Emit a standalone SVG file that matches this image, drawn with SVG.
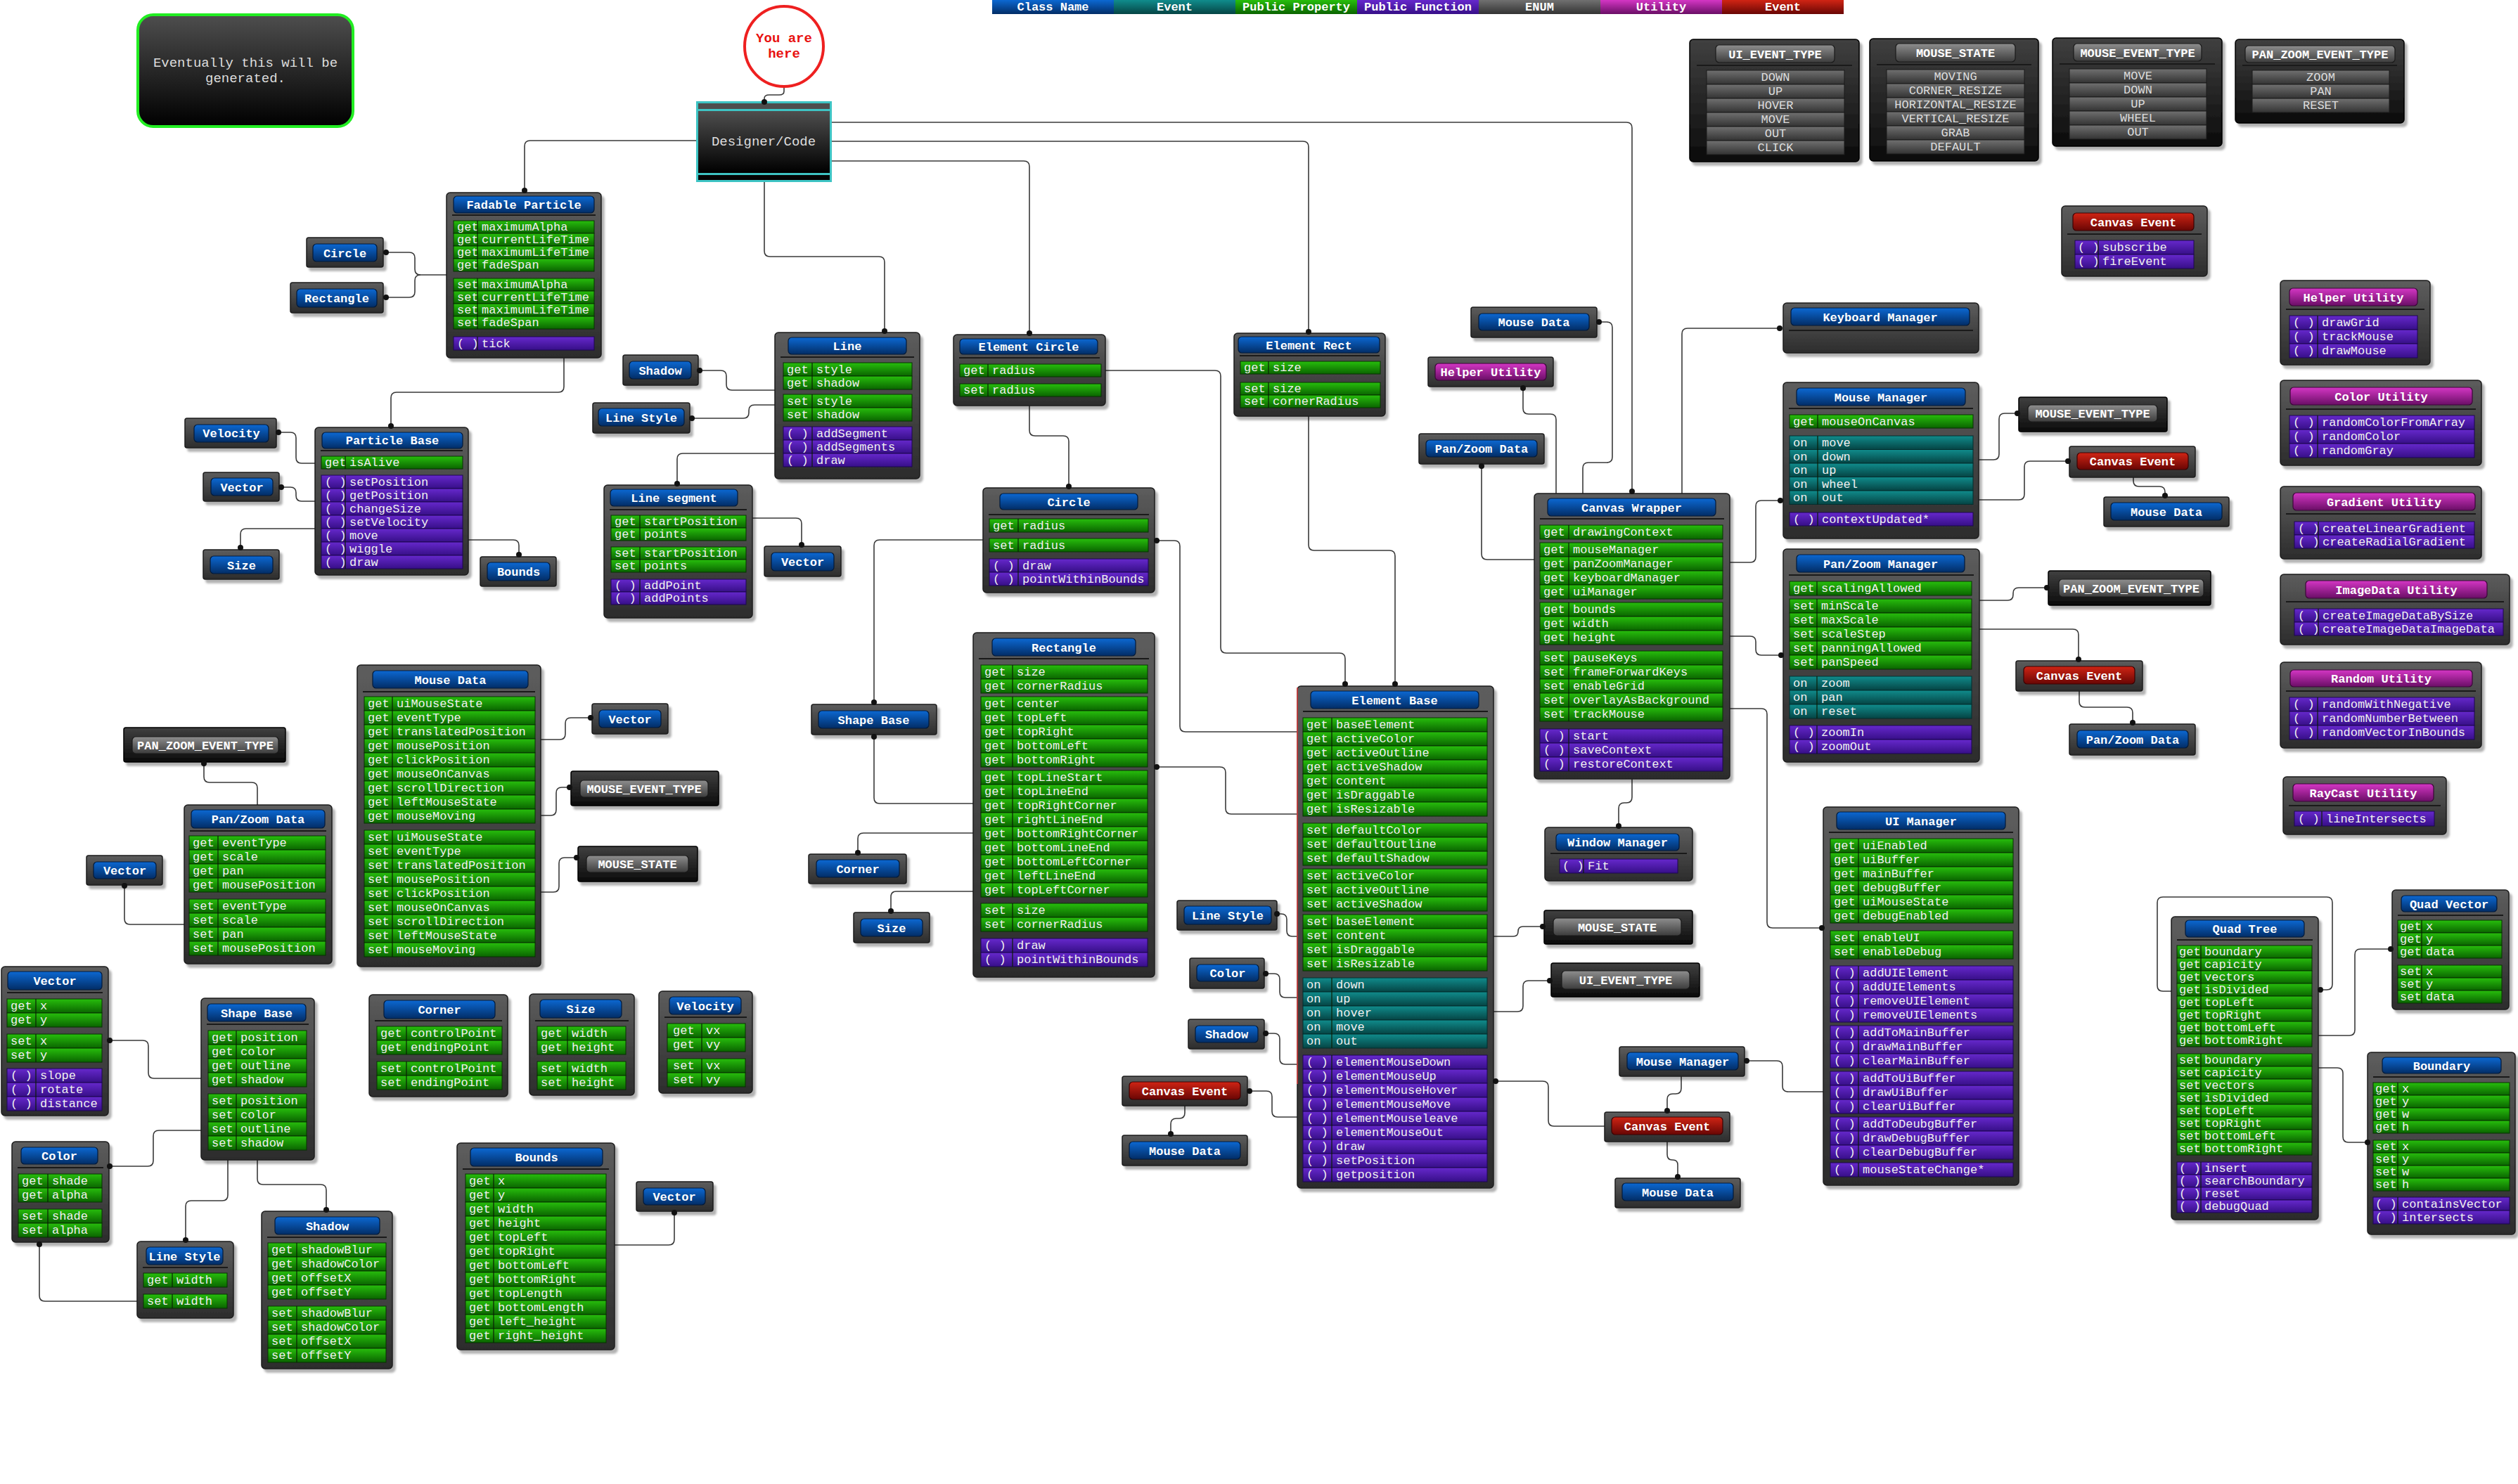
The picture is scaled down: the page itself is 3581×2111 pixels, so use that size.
<svg xmlns="http://www.w3.org/2000/svg" width="3581" height="2111" viewBox="0 0 3581 2111">
<defs>
<linearGradient id="gBox" x1="0" y1="0" x2="0" y2="1"><stop offset="0" stop-color="#5d5d5d"/><stop offset="1" stop-color="#2c2c2c"/></linearGradient>
<linearGradient id="gEbox" x1="0" y1="0" x2="0" y2="1"><stop offset="0" stop-color="#404040"/><stop offset="1" stop-color="#0b0b0b"/></linearGradient>
<linearGradient id="gNote" x1="0" y1="0" x2="0" y2="1"><stop offset="0" stop-color="#4e4e4e"/><stop offset="1" stop-color="#000"/></linearGradient>
<linearGradient id="gBlue" x1="0" y1="0" x2="0" y2="1"><stop offset="0" stop-color="#0c68d2"/><stop offset="1" stop-color="#022d66"/></linearGradient>
<linearGradient id="gRed" x1="0" y1="0" x2="0" y2="1"><stop offset="0" stop-color="#d02414"/><stop offset="1" stop-color="#690604"/></linearGradient>
<linearGradient id="gMag" x1="0" y1="0" x2="0" y2="1"><stop offset="0" stop-color="#d436c4"/><stop offset="1" stop-color="#6a0e66"/></linearGradient>
<linearGradient id="gEbar" x1="0" y1="0" x2="0" y2="1"><stop offset="0" stop-color="#8e8e8e"/><stop offset="1" stop-color="#3c3c3c"/></linearGradient>
<linearGradient id="gG" x1="0" y1="0" x2="0" y2="1"><stop offset="0" stop-color="#27be0c"/><stop offset="1" stop-color="#0a6400"/></linearGradient>
<linearGradient id="gT" x1="0" y1="0" x2="0" y2="1"><stop offset="0" stop-color="#108c8c"/><stop offset="1" stop-color="#054444"/></linearGradient>
<linearGradient id="gF" x1="0" y1="0" x2="0" y2="1"><stop offset="0" stop-color="#6628cc"/><stop offset="1" stop-color="#370f88"/></linearGradient>
<linearGradient id="gEr" x1="0" y1="0" x2="0" y2="1"><stop offset="0" stop-color="#707070"/><stop offset="1" stop-color="#333"/></linearGradient>
<filter id="sh" x="-10%" y="-10%" width="130%" height="130%"><feDropShadow dx="4" dy="5" stdDeviation="1.5" flood-color="#000" flood-opacity="0.3"/></filter>
</defs>
<style>
.bx{fill:url(#gBox);stroke:#1c1c1c;stroke-width:1.5;filter:url(#sh)}
.ebx{fill:url(#gEbox);stroke:#000;stroke-width:1.5;filter:url(#sh)}
.bl{fill:url(#gBlue);stroke:#021a3a;stroke-width:1.2}
.rd{fill:url(#gRed);stroke:#3a0202;stroke-width:1.2}
.mg{fill:url(#gMag);stroke:#3a0638;stroke-width:1.2}
.eb{fill:url(#gEbar);stroke:#1a1a1a;stroke-width:1.2}
.tt{font:bold 17px "Liberation Mono",monospace;fill:#fff;text-anchor:middle}
.sp{stroke:#1a1a1a;stroke-width:2}
.g{fill:url(#gG);stroke:#073300}
.t{fill:url(#gT);stroke:#032f2f}
.f{fill:url(#gF);stroke:#1c0650}
.er{fill:url(#gEr);stroke:#1a1a1a}
.r{font:17px "Liberation Mono",monospace;fill:#f0f0f0}
.ec{font:17px "Liberation Mono",monospace;fill:#ddd;text-anchor:middle}
.dv{stroke:#0b1e06;stroke-width:1.2}
.nt{font:19px "Liberation Mono",monospace;fill:#ddd;text-anchor:middle}
.yh{font:bold 19px "Liberation Mono",monospace;fill:#e81010;text-anchor:middle}
.c{fill:none;stroke:#3a3a3a;stroke-width:1.6}
.d{fill:#111}
</style>
<rect width="3581" height="2111" fill="#fff"/>

<g id="connectors">
<path class="c" d="M1115,123 V130 Q1115,135 1108,135 H1094 Q1087,135 1087,140 V145"/>
<path class="c" d="M990,200 H754 Q746,200 746,208 V272"/>
<path class="c" d="M1183,174 H2313 Q2321,174 2321,182 V702"/>
<path class="c" d="M1183,201 H1853 Q1861,201 1861,209 V474"/>
<path class="c" d="M1183,229 H1456 Q1464,229 1464,237 V476"/>
<path class="c" d="M1087,259 V357 Q1087,365 1095,365 H1250 Q1258,365 1258,373 V473"/>
<path class="c" d="M549,359 H582 Q590,359 590,367 V383 Q590,391 598,391 H635"/>
<path class="c" d="M549,423 H582 Q590,423 590,415 V399 Q590,391 598,391"/>
<path class="c" d="M802,509 V550 Q802,558 794,558 H564 Q556,558 556,566 V608"/>
<path class="c" d="M396,615 H413 Q421,615 421,623 V651 Q421,659 429,659 H448"/>
<path class="c" d="M400,693 H413 Q421,693 421,701 V705 Q421,713 429,713 H448"/>
<path class="c" d="M342,779 V760 Q342,752 350,752 H448"/>
<path class="c" d="M666,768 H730 Q738,768 738,776 V792"/>
<path class="c" d="M995,527 H1025 Q1033,527 1033,535 V547 Q1033,555 1041,555 H1102"/>
<path class="c" d="M984,595 H1057 Q1065,595 1065,587 V584 Q1065,576 1073,576 H1102"/>
<path class="c" d="M1102,645 H971 Q963,645 963,653 V690"/>
<path class="c" d="M1070,737 H1132 Q1140,737 1140,745 V777"/>
<path class="c" d="M1464,577 V612 Q1464,620 1472,620 H1512 Q1520,620 1520,628 V694"/>
<path class="c" d="M1572,527 H1728 Q1736,527 1736,535 V921 Q1736,929 1744,929 H1905 Q1913,929 1913,937 V976"/>
<path class="c" d="M1861,592 V775 Q1861,783 1869,783 H1976 Q1984,783 1984,791 V976"/>
<path class="c" d="M1398,768 H1251 Q1243,768 1243,776 V1002"/>
<path class="c" d="M1645,769 H1670 Q1678,769 1678,777 V1033 Q1678,1041 1686,1041 H1845"/>
<path class="c" d="M1243,1048 V1135 Q1243,1143 1251,1143 H1384"/>
<path class="c" d="M1645,1091 H1735 Q1743,1091 1743,1099 V1150 Q1743,1158 1751,1158 H1845"/>
<path class="c" d="M1384,1185 H1228 Q1220,1185 1220,1193 V1215"/>
<path class="c" d="M1384,1268 H1275 Q1267,1268 1267,1276 V1298"/>
<path class="c" d="M1816,1300 H1822 Q1830,1300 1830,1308 V1324 Q1830,1332 1838,1332 H1845"/>
<path class="c" d="M1800,1385 H1812 Q1820,1385 1820,1393 V1411 Q1820,1419 1828,1419 H1845"/>
<path class="c" d="M1800,1470 H1812 Q1820,1470 1820,1478 V1506 Q1820,1514 1828,1514 H1845"/>
<path class="c" d="M1777,1552 H1801 Q1809,1552 1809,1560 V1581 Q1809,1589 1817,1589 H1845"/>
<path class="c" d="M1685,1573 V1583 Q1685,1591 1677,1591 H1673 Q1665,1591 1665,1599 V1615"/>
<path class="c" d="M2124,1332 H2152 Q2159,1332 2159,1325 Q2159,1318 2166,1318 H2196"/>
<path class="c" d="M2124,1439 H2158 Q2166,1439 2166,1431 V1403 Q2166,1395 2174,1395 H2206"/>
<path class="c" d="M2127,1538 H2194 Q2202,1538 2202,1546 V1594 Q2202,1602 2210,1602 H2282"/>
<path class="c" d="M2484,1509 H2527 Q2535,1509 2535,1517 V1545 Q2535,1553 2543,1553 H2593"/>
<path class="c" d="M2391,1531 V1548 Q2391,1556 2383,1556 H2379 Q2371,1556 2371,1564 V1582"/>
<path class="c" d="M2371,1624 V1642 Q2371,1650 2378,1650 H2379 Q2386,1650 2386,1657 V1676"/>
<path class="c" d="M2321,1108 V1134 Q2321,1142 2313,1142 H2310 Q2302,1142 2302,1150 V1177"/>
<path class="c" d="M2460,1008 H2505 Q2513,1008 2513,1016 V1312 Q2513,1320 2521,1320 H2593"/>
<path class="c" d="M2460,800 H2489 Q2497,800 2497,792 V720 Q2497,712 2505,712 H2536"/>
<path class="c" d="M2460,905 H2489 Q2497,905 2497,913 V924 Q2497,932 2505,932 H2536"/>
<path class="c" d="M2274,458 H2285 Q2293,458 2293,466 V650 Q2293,658 2285,658 H2259 Q2251,658 2251,666 V702"/>
<path class="c" d="M2166,552 V581 Q2166,589 2174,589 H2205 Q2213,589 2213,597 V702"/>
<path class="c" d="M2107,663 V788 Q2107,796 2115,796 H2182"/>
<path class="c" d="M2531,467 H2400 Q2392,467 2392,475 V702"/>
<path class="c" d="M2814,654 H2835 Q2843,654 2843,646 V596 Q2843,588 2851,588 H2871"/>
<path class="c" d="M2814,711 H2871 Q2879,711 2879,703 V664 Q2879,656 2887,656 H2943"/>
<path class="c" d="M3034,679 V684 Q3034,692 3042,692 H3071 Q3079,692 3079,700 V707"/>
<path class="c" d="M2815,854 H2855 Q2863,854 2863,846 V844 Q2863,836 2871,836 H2913"/>
<path class="c" d="M2815,895 H2948 Q2956,895 2956,903 V940"/>
<path class="c" d="M2957,983 V998 Q2957,1006 2965,1006 H3025 Q3033,1006 3033,1014 V1030"/>
<path class="c" d="M769,1052 H796 Q804,1052 804,1044 V1029 Q804,1021 812,1021 H842"/>
<path class="c" d="M769,1160 H783 Q791,1160 791,1152 V1128 Q791,1120 799,1120 H812"/>
<path class="c" d="M769,1269 H787 Q795,1269 795,1261 V1228 Q795,1220 803,1220 H822"/>
<path class="c" d="M290,1086 V1105 Q290,1113 298,1113 H358 Q366,1113 366,1121 V1145"/>
<path class="c" d="M177,1260 V1307 Q177,1315 185,1315 H262"/>
<path class="c" d="M156,1480 H203 Q211,1480 211,1488 V1526 Q211,1534 219,1534 H286"/>
<path class="c" d="M286,1608 H226 Q218,1608 218,1616 V1651 Q218,1659 210,1659 H156"/>
<path class="c" d="M324,1650 V1700 Q324,1708 316,1708 H272 Q264,1708 264,1716 V1766"/>
<path class="c" d="M366,1650 V1677 Q366,1685 374,1685 H456 Q464,1685 464,1693 V1723"/>
<path class="c" d="M56,1770 V1843 Q56,1851 64,1851 H195"/>
<path class="c" d="M874,1771 H951 Q959,1771 959,1763 V1725"/>
<path class="c" d="M3088,1410 H3076 Q3068,1410 3068,1402 V1284 Q3068,1276 3076,1276 H3309 Q3317,1276 3317,1284 V1400 Q3317,1408 3309,1408 H3300"/>
<path class="c" d="M3297,1473 H3341 Q3349,1473 3349,1465 V1358 Q3349,1350 3357,1350 H3402"/>
<path class="c" d="M3297,1519 H3324 Q3332,1519 3332,1527 V1617 Q3332,1625 3340,1625 H3367"/>
</g>

<g id="note"><rect x="196" y="21" width="306" height="159" rx="22" fill="url(#gNote)" stroke="#22ee22" stroke-width="4"/><text class="nt" x="349" y="95">Eventually this will be</text><text class="nt" x="349" y="117">generated.</text></g>
<g id="you-are-here"><ellipse cx="1115" cy="66" rx="56" ry="57" fill="#fff" stroke="#ee2020" stroke-width="4"/><text class="yh" x="1115" y="60">You are</text><text class="yh" x="1115" y="82">here</text></g>
<g id="designer-code"><rect x="990" y="144" width="193" height="115" fill="#3ec4c4"/><rect x="993" y="147" width="187" height="8" fill="#4d4d4d"/><rect x="993" y="158" width="187" height="88" fill="url(#gNote)"/><rect x="993" y="249" width="187" height="7" fill="#050505"/><text class="nt" x="1086" y="207">Designer/Code</text></g>

<g id="legend">
<rect x="1411" y="0" width="173" height="20" fill="url(#gBlue)"/><rect x="1584" y="0" width="173" height="20" fill="url(#gT)"/><rect x="1757" y="0" width="173" height="20" fill="url(#gG)"/><rect x="1930" y="0" width="173" height="20" fill="url(#gF)"/><rect x="2103" y="0" width="173" height="20" fill="url(#gEr)"/><rect x="2276" y="0" width="173" height="20" fill="url(#gMag)"/><rect x="2449" y="0" width="173" height="20" fill="url(#gRed)"/>
<text class="tt" x="1497.5" y="15">Class Name</text><text class="tt" x="1670.5" y="15">Event</text><text class="tt" x="1843.5" y="15">Public Property</text><text class="tt" x="2016.5" y="15">Public Function</text><text class="tt" x="2189.5" y="15" fill="#ddd">ENUM</text><text class="tt" x="2362.5" y="15">Utility</text><text class="tt" x="2535.5" y="15">Event</text>
</g>

<g id="enum-ui-event-type"><rect class="ebx" x="2403" y="56" width="241" height="174" rx="5"/><rect class="eb" x="2440" y="64" width="169" height="25" rx="5"/><text class="tt" x="2524.5" y="82.5">UI_EVENT_TYPE</text><line class="sp" x1="2413" y1="93" x2="2634" y2="93"/>
<rect class="er" x="2427" y="100" width="196" height="20"/><text class="ec" x="2525" y="115">DOWN</text>
<rect class="er" x="2427" y="120" width="196" height="20"/><text class="ec" x="2525" y="135">UP</text>
<rect class="er" x="2427" y="140" width="196" height="20"/><text class="ec" x="2525" y="155">HOVER</text>
<rect class="er" x="2427" y="160" width="196" height="20"/><text class="ec" x="2525" y="175">MOVE</text>
<rect class="er" x="2427" y="180" width="196" height="20"/><text class="ec" x="2525" y="195">OUT</text>
<rect class="er" x="2427" y="200" width="196" height="20"/><text class="ec" x="2525" y="215">CLICK</text></g>

<g id="enum-mouse-state"><rect class="ebx" x="2659" y="55" width="240" height="174" rx="5"/><rect class="eb" x="2696" y="62" width="170" height="26" rx="5"/><text class="tt" x="2781" y="81">MOUSE_STATE</text><line class="sp" x1="2669" y1="92" x2="2889" y2="92"/>
<rect class="er" x="2683" y="99" width="196" height="20"/><text class="ec" x="2781" y="114">MOVING</text>
<rect class="er" x="2683" y="119" width="196" height="20"/><text class="ec" x="2781" y="134">CORNER_RESIZE</text>
<rect class="er" x="2683" y="139" width="196" height="20"/><text class="ec" x="2781" y="154">HORIZONTAL_RESIZE</text>
<rect class="er" x="2683" y="159" width="196" height="20"/><text class="ec" x="2781" y="174">VERTICAL_RESIZE</text>
<rect class="er" x="2683" y="179" width="196" height="20"/><text class="ec" x="2781" y="194">GRAB</text>
<rect class="er" x="2683" y="199" width="196" height="20"/><text class="ec" x="2781" y="214">DEFAULT</text></g>

<g id="enum-mouse-event-type"><rect class="ebx" x="2919" y="54" width="241" height="154" rx="5"/><rect class="eb" x="2949" y="62" width="182" height="25" rx="5"/><text class="tt" x="3040" y="80.5">MOUSE_EVENT_TYPE</text><line class="sp" x1="2929" y1="91" x2="3150" y2="91"/>
<rect class="er" x="2943" y="98" width="195" height="20"/><text class="ec" x="3040.5" y="113">MOVE</text>
<rect class="er" x="2943" y="118" width="195" height="20"/><text class="ec" x="3040.5" y="133">DOWN</text>
<rect class="er" x="2943" y="138" width="195" height="20"/><text class="ec" x="3040.5" y="153">UP</text>
<rect class="er" x="2943" y="158" width="195" height="20"/><text class="ec" x="3040.5" y="173">WHEEL</text>
<rect class="er" x="2943" y="178" width="195" height="20"/><text class="ec" x="3040.5" y="193">OUT</text></g>

<g id="enum-pan-zoom-event-type"><rect class="ebx" x="3179" y="56" width="240" height="119" rx="5"/><rect class="eb" x="3193" y="65" width="213" height="24" rx="5"/><text class="tt" x="3299.5" y="83">PAN_ZOOM_EVENT_TYPE</text><line class="sp" x1="3189" y1="93" x2="3409" y2="93"/>
<rect class="er" x="3203" y="100" width="195" height="20"/><text class="ec" x="3300.5" y="115">ZOOM</text>
<rect class="er" x="3203" y="120" width="195" height="20"/><text class="ec" x="3300.5" y="135">PAN</text>
<rect class="er" x="3203" y="140" width="195" height="20"/><text class="ec" x="3300.5" y="155">RESET</text></g>

<g id="fadable-particle"><rect class="bx" x="635" y="274" width="220" height="235" rx="5"/><rect class="bl" x="645" y="279" width="200" height="24" rx="5"/><text class="tt" x="745" y="297">Fadable Particle</text><line class="sp" x1="643" y1="306" x2="847" y2="306"/>
<rect class="g" x="645" y="314" width="200" height="18"/><text class="r" y="328"><tspan x="650">get</tspan><tspan x="685">maximumAlpha</tspan></text>
<rect class="g" x="645" y="332" width="200" height="18"/><text class="r" y="346"><tspan x="650">get</tspan><tspan x="685">currentLifeTime</tspan></text>
<rect class="g" x="645" y="350" width="200" height="18"/><text class="r" y="364"><tspan x="650">get</tspan><tspan x="685">maximumLifeTime</tspan></text>
<rect class="g" x="645" y="368" width="200" height="18"/><text class="r" y="382"><tspan x="650">get</tspan><tspan x="685">fadeSpan</tspan></text>
<rect class="g" x="645" y="396" width="200" height="18"/><text class="r" y="410"><tspan x="650">set</tspan><tspan x="685">maximumAlpha</tspan></text>
<rect class="g" x="645" y="414" width="200" height="18"/><text class="r" y="428"><tspan x="650">set</tspan><tspan x="685">currentLifeTime</tspan></text>
<rect class="g" x="645" y="432" width="200" height="18"/><text class="r" y="446"><tspan x="650">set</tspan><tspan x="685">maximumLifeTime</tspan></text>
<rect class="g" x="645" y="450" width="200" height="18"/><text class="r" y="464"><tspan x="650">set</tspan><tspan x="685">fadeSpan</tspan></text>
<rect class="f" x="645" y="479" width="200" height="19"/><text class="r" y="494"><tspan x="650">( )</tspan><tspan x="685">tick</tspan></text>
<path class="dv" d="M679,314V386M679,396V468M679,479V498"/></g>

<g id="circle-ref-1"><rect class="bx" x="436" y="338" width="109" height="42" rx="3"/><rect class="bl" x="445" y="347" width="91" height="25" rx="5"/><text class="tt" x="490.5" y="366">Circle</text></g>
<g id="rectangle-ref-1"><rect class="bx" x="413" y="402" width="132" height="43" rx="3"/><rect class="bl" x="422" y="411" width="114" height="26" rx="5"/><text class="tt" x="479" y="430">Rectangle</text></g>

<g id="particle-base"><rect class="bx" x="448" y="608" width="218" height="210" rx="5"/><rect class="bl" x="458" y="615" width="200" height="23" rx="5"/><text class="tt" x="558" y="632">Particle Base</text><line class="sp" x1="456" y1="641" x2="658" y2="641"/>
<rect class="g" x="457" y="649" width="201" height="18"/><text class="r" y="663"><tspan x="462">get</tspan><tspan x="497">isAlive</tspan></text>
<rect class="f" x="457" y="676" width="201" height="19"/><text class="r" y="691"><tspan x="462">( )</tspan><tspan x="497">setPosition</tspan></text>
<rect class="f" x="457" y="695" width="201" height="19"/><text class="r" y="710"><tspan x="462">( )</tspan><tspan x="497">getPosition</tspan></text>
<rect class="f" x="457" y="714" width="201" height="19"/><text class="r" y="729"><tspan x="462">( )</tspan><tspan x="497">changeSize</tspan></text>
<rect class="f" x="457" y="733" width="201" height="19"/><text class="r" y="748"><tspan x="462">( )</tspan><tspan x="497">setVelocity</tspan></text>
<rect class="f" x="457" y="752" width="201" height="19"/><text class="r" y="767"><tspan x="462">( )</tspan><tspan x="497">move</tspan></text>
<rect class="f" x="457" y="771" width="201" height="19"/><text class="r" y="786"><tspan x="462">( )</tspan><tspan x="497">wiggle</tspan></text>
<rect class="f" x="457" y="790" width="201" height="19"/><text class="r" y="805"><tspan x="462">( )</tspan><tspan x="497">draw</tspan></text>
<path class="dv" d="M491,649V667M491,676V809"/></g>

<g id="velocity-ref-1"><rect class="bx" x="263" y="595" width="130" height="42" rx="3"/><rect class="bl" x="276" y="604" width="106" height="25" rx="5"/><text class="tt" x="329" y="622">Velocity</text></g>
<g id="vector-ref-1"><rect class="bx" x="289" y="672" width="108" height="41" rx="3"/><rect class="bl" x="300" y="680" width="88" height="25" rx="5"/><text class="tt" x="344" y="698.5">Vector</text></g>
<g id="size-ref-1"><rect class="bx" x="289" y="782" width="108" height="42" rx="3"/><rect class="bl" x="299" y="791" width="89" height="25" rx="5"/><text class="tt" x="343.5" y="809.5">Size</text></g>
<g id="bounds-ref-1"><rect class="bx" x="683" y="792" width="108" height="42" rx="3"/><rect class="bl" x="693" y="800" width="89" height="26" rx="5"/><text class="tt" x="737.5" y="819">Bounds</text></g>

<g id="line"><rect class="bx" x="1102" y="473" width="206" height="208" rx="5"/><rect class="bl" x="1121" y="480" width="168" height="24" rx="5"/><text class="tt" x="1205" y="498">Line</text><line class="sp" x1="1110" y1="508" x2="1300" y2="508"/>
<rect class="g" x="1114" y="516" width="183" height="19"/><text class="r" y="531"><tspan x="1119">get</tspan><tspan x="1161">style</tspan></text>
<rect class="g" x="1114" y="535" width="183" height="19"/><text class="r" y="550"><tspan x="1119">get</tspan><tspan x="1161">shadow</tspan></text>
<rect class="g" x="1114" y="561" width="183" height="19"/><text class="r" y="576"><tspan x="1119">set</tspan><tspan x="1161">style</tspan></text>
<rect class="g" x="1114" y="580" width="183" height="19"/><text class="r" y="595"><tspan x="1119">set</tspan><tspan x="1161">shadow</tspan></text>
<rect class="f" x="1114" y="607" width="183" height="19"/><text class="r" y="622"><tspan x="1119">( )</tspan><tspan x="1161">addSegment</tspan></text>
<rect class="f" x="1114" y="626" width="183" height="19"/><text class="r" y="641"><tspan x="1119">( )</tspan><tspan x="1161">addSegments</tspan></text>
<rect class="f" x="1114" y="645" width="183" height="19"/><text class="r" y="660"><tspan x="1119">( )</tspan><tspan x="1161">draw</tspan></text>
<path class="dv" d="M1155,516V554M1155,561V599M1155,607V664"/></g>

<g id="shadow-ref-1"><rect class="bx" x="886" y="505" width="107" height="43" rx="3"/><rect class="bl" x="895" y="514" width="88" height="25" rx="5"/><text class="tt" x="939" y="532.5">Shadow</text></g>
<g id="line-style-ref-1"><rect class="bx" x="843" y="573" width="138" height="43" rx="3"/><rect class="bl" x="851" y="581" width="122" height="25" rx="5"/><text class="tt" x="912" y="599.5">Line Style</text></g>

<g id="line-segment"><rect class="bx" x="859" y="690" width="211" height="189" rx="5"/><rect class="bl" x="868" y="696" width="181" height="24" rx="5"/><text class="tt" x="958.5" y="714">Line segment</text><line class="sp" x1="867" y1="725" x2="1062" y2="725"/>
<rect class="g" x="869" y="733" width="192" height="18"/><text class="r" y="747"><tspan x="874">get</tspan><tspan x="916">startPosition</tspan></text>
<rect class="g" x="869" y="751" width="192" height="18"/><text class="r" y="765"><tspan x="874">get</tspan><tspan x="916">points</tspan></text>
<rect class="g" x="869" y="778" width="192" height="18"/><text class="r" y="792"><tspan x="874">set</tspan><tspan x="916">startPosition</tspan></text>
<rect class="g" x="869" y="796" width="192" height="18"/><text class="r" y="810"><tspan x="874">set</tspan><tspan x="916">points</tspan></text>
<rect class="f" x="869" y="824" width="192" height="18"/><text class="r" y="838"><tspan x="874">( )</tspan><tspan x="916">addPoint</tspan></text>
<rect class="f" x="869" y="842" width="192" height="18"/><text class="r" y="856"><tspan x="874">( )</tspan><tspan x="916">addPoints</tspan></text>
<path class="dv" d="M910,733V769M910,778V814M910,824V860"/></g>

<g id="vector-ref-2"><rect class="bx" x="1087" y="777" width="109" height="43" rx="3"/><rect class="bl" x="1097" y="786" width="89" height="26" rx="5"/><text class="tt" x="1141.5" y="805">Vector</text></g>

<g id="element-circle"><rect class="bx" x="1356" y="476" width="216" height="101" rx="5"/><rect class="bl" x="1365" y="482" width="196" height="22" rx="5"/><text class="tt" x="1463" y="499">Element Circle</text><line class="sp" x1="1364" y1="509" x2="1564" y2="509"/>
<rect class="g" x="1365" y="518" width="201" height="18"/><text class="r" y="532"><tspan x="1370">get</tspan><tspan x="1411">radius</tspan></text>
<rect class="g" x="1365" y="546" width="201" height="18"/><text class="r" y="560"><tspan x="1370">set</tspan><tspan x="1411">radius</tspan></text>
<path class="dv" d="M1405,518V536M1405,546V564"/></g>

<g id="element-rect"><rect class="bx" x="1755" y="474" width="215" height="118" rx="5"/><rect class="bl" x="1761" y="479" width="201" height="23" rx="5"/><text class="tt" x="1861.5" y="496.5">Element Rect</text><line class="sp" x1="1763" y1="506" x2="1962" y2="506"/>
<rect class="g" x="1764" y="514" width="199" height="18"/><text class="r" y="528"><tspan x="1769">get</tspan><tspan x="1810">size</tspan></text>
<rect class="g" x="1764" y="544" width="199" height="18"/><text class="r" y="558"><tspan x="1769">set</tspan><tspan x="1810">size</tspan></text>
<rect class="g" x="1764" y="562" width="199" height="18"/><text class="r" y="576"><tspan x="1769">set</tspan><tspan x="1810">cornerRadius</tspan></text>
<path class="dv" d="M1804,514V532M1804,544V580"/></g>

<g id="circle"><rect class="bx" x="1398" y="694" width="244" height="149" rx="5"/><rect class="bl" x="1422" y="702" width="196" height="23" rx="5"/><text class="tt" x="1520" y="719.5">Circle</text><line class="sp" x1="1406" y1="732" x2="1634" y2="732"/>
<rect class="g" x="1407" y="738" width="226" height="19"/><text class="r" y="753"><tspan x="1412">get</tspan><tspan x="1454">radius</tspan></text>
<rect class="g" x="1407" y="766" width="226" height="19"/><text class="r" y="781"><tspan x="1412">set</tspan><tspan x="1454">radius</tspan></text>
<rect class="f" x="1407" y="795" width="226" height="19"/><text class="r" y="810"><tspan x="1412">( )</tspan><tspan x="1454">draw</tspan></text>
<rect class="f" x="1407" y="814" width="226" height="19"/><text class="r" y="829"><tspan x="1412">( )</tspan><tspan x="1454">pointWithinBounds</tspan></text>
<path class="dv" d="M1448,738V757M1448,766V785M1448,795V833"/></g>

<g id="shape-base-ref-1"><rect class="bx" x="1154" y="1002" width="178" height="43" rx="3"/><rect class="bl" x="1164" y="1011" width="157" height="25" rx="5"/><text class="tt" x="1242.5" y="1029.5">Shape Base</text></g>

<g id="rectangle"><rect class="bx" x="1384" y="900" width="258" height="490" rx="5"/><rect class="bl" x="1411" y="908" width="204" height="25" rx="5"/><text class="tt" x="1513" y="926.5">Rectangle</text><line class="sp" x1="1392" y1="937" x2="1634" y2="937"/>
<rect class="g" x="1395" y="946" width="237" height="20"/><text class="r" y="961"><tspan x="1400">get</tspan><tspan x="1446">size</tspan></text>
<rect class="g" x="1395" y="966" width="237" height="20"/><text class="r" y="981"><tspan x="1400">get</tspan><tspan x="1446">cornerRadius</tspan></text>
<rect class="g" x="1395" y="991" width="237" height="20"/><text class="r" y="1006"><tspan x="1400">get</tspan><tspan x="1446">center</tspan></text>
<rect class="g" x="1395" y="1011" width="237" height="20"/><text class="r" y="1026"><tspan x="1400">get</tspan><tspan x="1446">topLeft</tspan></text>
<rect class="g" x="1395" y="1031" width="237" height="20"/><text class="r" y="1046"><tspan x="1400">get</tspan><tspan x="1446">topRight</tspan></text>
<rect class="g" x="1395" y="1051" width="237" height="20"/><text class="r" y="1066"><tspan x="1400">get</tspan><tspan x="1446">bottomLeft</tspan></text>
<rect class="g" x="1395" y="1071" width="237" height="20"/><text class="r" y="1086"><tspan x="1400">get</tspan><tspan x="1446">bottomRight</tspan></text>
<rect class="g" x="1395" y="1096" width="237" height="20"/><text class="r" y="1111"><tspan x="1400">get</tspan><tspan x="1446">topLineStart</tspan></text>
<rect class="g" x="1395" y="1116" width="237" height="20"/><text class="r" y="1131"><tspan x="1400">get</tspan><tspan x="1446">topLineEnd</tspan></text>
<rect class="g" x="1395" y="1136" width="237" height="20"/><text class="r" y="1151"><tspan x="1400">get</tspan><tspan x="1446">topRightCorner</tspan></text>
<rect class="g" x="1395" y="1156" width="237" height="20"/><text class="r" y="1171"><tspan x="1400">get</tspan><tspan x="1446">rightLineEnd</tspan></text>
<rect class="g" x="1395" y="1176" width="237" height="20"/><text class="r" y="1191"><tspan x="1400">get</tspan><tspan x="1446">bottomRightCorner</tspan></text>
<rect class="g" x="1395" y="1196" width="237" height="20"/><text class="r" y="1211"><tspan x="1400">get</tspan><tspan x="1446">bottomLineEnd</tspan></text>
<rect class="g" x="1395" y="1216" width="237" height="20"/><text class="r" y="1231"><tspan x="1400">get</tspan><tspan x="1446">bottomLeftCorner</tspan></text>
<rect class="g" x="1395" y="1236" width="237" height="20"/><text class="r" y="1251"><tspan x="1400">get</tspan><tspan x="1446">leftLineEnd</tspan></text>
<rect class="g" x="1395" y="1256" width="237" height="20"/><text class="r" y="1271"><tspan x="1400">get</tspan><tspan x="1446">topLeftCorner</tspan></text>
<rect class="g" x="1395" y="1285" width="237" height="20"/><text class="r" y="1300"><tspan x="1400">set</tspan><tspan x="1446">size</tspan></text>
<rect class="g" x="1395" y="1305" width="237" height="20"/><text class="r" y="1320"><tspan x="1400">set</tspan><tspan x="1446">cornerRadius</tspan></text>
<rect class="f" x="1395" y="1335" width="237" height="20"/><text class="r" y="1350"><tspan x="1400">( )</tspan><tspan x="1446">draw</tspan></text>
<rect class="f" x="1395" y="1355" width="237" height="20"/><text class="r" y="1370"><tspan x="1400">( )</tspan><tspan x="1446">pointWithinBounds</tspan></text>
<path class="dv" d="M1440,946V986M1440,991V1091M1440,1096V1276M1440,1285V1325M1440,1335V1375"/></g>

<g id="corner-ref-1"><rect class="bx" x="1150" y="1215" width="139" height="42" rx="3"/><rect class="bl" x="1161" y="1223" width="118" height="25" rx="5"/><text class="tt" x="1220" y="1241.5">Corner</text></g>
<g id="size-ref-2"><rect class="bx" x="1214" y="1298" width="108" height="43" rx="3"/><rect class="bl" x="1224" y="1307" width="88" height="25" rx="5"/><text class="tt" x="1268" y="1325.5">Size</text></g>

<g id="mouse-data-ref-1"><rect class="bx" x="2092" y="437" width="179" height="43" rx="3"/><rect class="bl" x="2103" y="446" width="157" height="24" rx="5"/><text class="tt" x="2181.5" y="464">Mouse Data</text></g>
<g id="helper-utility-ref-1"><rect class="bx" x="2031" y="508" width="178" height="42" rx="3"/><rect class="mg" x="2041" y="517" width="158" height="24" rx="5"/><text class="tt" x="2120" y="535">Helper Utility</text></g>
<g id="pan-zoom-data-ref-1"><rect class="bx" x="2018" y="617" width="178" height="43" rx="3"/><rect class="bl" x="2028" y="626" width="158" height="24" rx="5"/><text class="tt" x="2107" y="644">Pan/Zoom Data</text></g>

<g id="keyboard-manager"><rect class="bx" x="2536" y="431" width="278" height="71" rx="5"/><rect class="bl" x="2547" y="438" width="254" height="25" rx="5"/><text class="tt" x="2674" y="456.5">Keyboard Manager</text><line class="sp" x1="2544" y1="470" x2="2806" y2="470"/></g>

<g id="mouse-manager"><rect class="bx" x="2536" y="544" width="278" height="222" rx="5"/><rect class="bl" x="2555" y="552" width="240" height="25" rx="5"/><text class="tt" x="2675" y="570.5">Mouse Manager</text><line class="sp" x1="2544" y1="581" x2="2806" y2="581"/>
<rect class="g" x="2545" y="590" width="261" height="19"/><text class="r" y="605"><tspan x="2550">get</tspan><tspan x="2591">mouseOnCanvas</tspan></text>
<rect class="t" x="2545" y="620" width="261" height="19.5"/><text class="r" y="635"><tspan x="2550">on</tspan><tspan x="2591">move</tspan></text>
<rect class="t" x="2545" y="639.5" width="261" height="19.5"/><text class="r" y="654.5"><tspan x="2550">on</tspan><tspan x="2591">down</tspan></text>
<rect class="t" x="2545" y="659" width="261" height="19.5"/><text class="r" y="674"><tspan x="2550">on</tspan><tspan x="2591">up</tspan></text>
<rect class="t" x="2545" y="678.5" width="261" height="19.5"/><text class="r" y="693.5"><tspan x="2550">on</tspan><tspan x="2591">wheel</tspan></text>
<rect class="t" x="2545" y="698" width="261" height="19.5"/><text class="r" y="713"><tspan x="2550">on</tspan><tspan x="2591">out</tspan></text>
<rect class="f" x="2545" y="729" width="261" height="19"/><text class="r" y="744"><tspan x="2550">( )</tspan><tspan x="2591">contextUpdated*</tspan></text>
<path class="dv" d="M2585,590V609M2585,620V717.5M2585,729V748"/></g>

<g id="mouse-event-type-ref-1"><rect class="ebx" x="2871" y="565" width="211" height="49" rx="3"/><rect class="eb" x="2884" y="576" width="184" height="24" rx="5"/><text class="tt" x="2976" y="594">MOUSE_EVENT_TYPE</text></g>
<g id="canvas-event-ref-1"><rect class="bx" x="2943" y="635" width="179" height="44" rx="3"/><rect class="rd" x="2954" y="644" width="158" height="24" rx="5"/><text class="tt" x="3033" y="662">Canvas Event</text></g>
<g id="mouse-data-ref-2"><rect class="bx" x="2992" y="707" width="178" height="42" rx="3"/><rect class="bl" x="3002" y="715" width="158" height="25" rx="5"/><text class="tt" x="3081" y="733.5">Mouse Data</text></g>

<g id="canvas-event"><rect class="bx" x="2932" y="293" width="207" height="100" rx="5"/><rect class="rd" x="2948" y="303" width="172" height="25" rx="5"/><text class="tt" x="3034" y="321.5">Canvas Event</text><line class="sp" x1="2940" y1="333" x2="3131" y2="333"/>
<rect class="f" x="2951" y="342" width="169" height="20"/><text class="r" y="357"><tspan x="2955">( )</tspan><tspan x="2990">subscribe</tspan></text>
<rect class="f" x="2951" y="362" width="169" height="20"/><text class="r" y="377"><tspan x="2955">( )</tspan><tspan x="2990">fireEvent</tspan></text>
<path class="dv" d="M2984,342V382"/></g>

<g id="helper-utility"><rect class="bx" x="3243" y="399" width="213" height="120" rx="5"/><rect class="mg" x="3256" y="410" width="182" height="25" rx="5"/><text class="tt" x="3347" y="428.5">Helper Utility</text><line class="sp" x1="3251" y1="440" x2="3448" y2="440"/>
<rect class="f" x="3256" y="449" width="182" height="20"/><text class="r" y="464"><tspan x="3261">( )</tspan><tspan x="3302">drawGrid</tspan></text>
<rect class="f" x="3256" y="469" width="182" height="20"/><text class="r" y="484"><tspan x="3261">( )</tspan><tspan x="3302">trackMouse</tspan></text>
<rect class="f" x="3256" y="489" width="182" height="20"/><text class="r" y="504"><tspan x="3261">( )</tspan><tspan x="3302">drawMouse</tspan></text>
<path class="dv" d="M3296,449V509"/></g>

<g id="color-utility"><rect class="bx" x="3243" y="541" width="286" height="121" rx="5"/><rect class="mg" x="3257" y="551" width="259" height="25" rx="5"/><text class="tt" x="3386.5" y="569.5">Color Utility</text><line class="sp" x1="3251" y1="582" x2="3521" y2="582"/>
<rect class="f" x="3256" y="591" width="263" height="20"/><text class="r" y="606"><tspan x="3261">( )</tspan><tspan x="3302">randomColorFromArray</tspan></text>
<rect class="f" x="3256" y="611" width="263" height="20"/><text class="r" y="626"><tspan x="3261">( )</tspan><tspan x="3302">randomColor</tspan></text>
<rect class="f" x="3256" y="631" width="263" height="20"/><text class="r" y="646"><tspan x="3261">( )</tspan><tspan x="3302">randomGray</tspan></text>
<path class="dv" d="M3296,591V651"/></g>

<g id="gradient-utility"><rect class="bx" x="3243" y="692" width="286" height="103" rx="5"/><rect class="mg" x="3261" y="701" width="259" height="25" rx="5"/><text class="tt" x="3390.5" y="719.5">Gradient Utility</text><line class="sp" x1="3251" y1="731" x2="3521" y2="731"/>
<rect class="f" x="3263" y="742" width="256" height="19"/><text class="r" y="757"><tspan x="3268">( )</tspan><tspan x="3303">createLinearGradient</tspan></text>
<rect class="f" x="3263" y="761" width="256" height="19"/><text class="r" y="776"><tspan x="3268">( )</tspan><tspan x="3303">createRadialGradient</tspan></text>
<path class="dv" d="M3297,742V780"/></g>

<g id="imagedata-utility"><rect class="bx" x="3243" y="817" width="326" height="100" rx="5"/><rect class="mg" x="3279" y="826" width="258" height="25" rx="5"/><text class="tt" x="3408" y="844.5">ImageData Utility</text><line class="sp" x1="3251" y1="856" x2="3561" y2="856"/>
<rect class="f" x="3263" y="866" width="297" height="19"/><text class="r" y="881"><tspan x="3268">( )</tspan><tspan x="3303">createImageDataBySize</tspan></text>
<rect class="f" x="3263" y="885" width="297" height="19"/><text class="r" y="900"><tspan x="3268">( )</tspan><tspan x="3303">createImageDataImageData</tspan></text>
<path class="dv" d="M3297,866V904"/></g>

<g id="random-utility"><rect class="bx" x="3243" y="942" width="286" height="122" rx="5"/><rect class="mg" x="3257" y="953" width="259" height="24" rx="5"/><text class="tt" x="3386.5" y="971">Random Utility</text><line class="sp" x1="3251" y1="983" x2="3521" y2="983"/>
<rect class="f" x="3256" y="992" width="263" height="20"/><text class="r" y="1007"><tspan x="3261">( )</tspan><tspan x="3302">randomWithNegative</tspan></text>
<rect class="f" x="3256" y="1012" width="263" height="20"/><text class="r" y="1027"><tspan x="3261">( )</tspan><tspan x="3302">randomNumberBetween</tspan></text>
<rect class="f" x="3256" y="1032" width="263" height="20"/><text class="r" y="1047"><tspan x="3261">( )</tspan><tspan x="3302">randomVectorInBounds</tspan></text>
<path class="dv" d="M3296,992V1052"/></g>

<g id="raycast-utility"><rect class="bx" x="3247" y="1105" width="232" height="82" rx="5"/><rect class="mg" x="3261" y="1115" width="200" height="25" rx="5"/><text class="tt" x="3361" y="1133.5">RayCast Utility</text><line class="sp" x1="3255" y1="1146" x2="3471" y2="1146"/>
<rect class="f" x="3263" y="1154" width="199" height="21"/><text class="r" y="1170"><tspan x="3268">( )</tspan><tspan x="3308">lineIntersects</tspan></text>
<path class="dv" d="M3302,1154V1175"/></g>

<g id="canvas-wrapper"><rect class="bx" x="2182" y="702" width="278" height="406" rx="5"/><rect class="bl" x="2201" y="709" width="239" height="25" rx="5"/><text class="tt" x="2320.5" y="727.5">Canvas Wrapper</text><line class="sp" x1="2190" y1="738" x2="2452" y2="738"/>
<rect class="g" x="2190" y="747" width="260" height="20"/><text class="r" y="762"><tspan x="2195">get</tspan><tspan x="2237">drawingContext</tspan></text>
<rect class="g" x="2190" y="772" width="260" height="20"/><text class="r" y="787"><tspan x="2195">get</tspan><tspan x="2237">mouseManager</tspan></text>
<rect class="g" x="2190" y="792" width="260" height="20"/><text class="r" y="807"><tspan x="2195">get</tspan><tspan x="2237">panZoomManager</tspan></text>
<rect class="g" x="2190" y="812" width="260" height="20"/><text class="r" y="827"><tspan x="2195">get</tspan><tspan x="2237">keyboardManager</tspan></text>
<rect class="g" x="2190" y="832" width="260" height="20"/><text class="r" y="847"><tspan x="2195">get</tspan><tspan x="2237">uiManager</tspan></text>
<rect class="g" x="2190" y="857" width="260" height="20"/><text class="r" y="872"><tspan x="2195">get</tspan><tspan x="2237">bounds</tspan></text>
<rect class="g" x="2190" y="877" width="260" height="20"/><text class="r" y="892"><tspan x="2195">get</tspan><tspan x="2237">width</tspan></text>
<rect class="g" x="2190" y="897" width="260" height="20"/><text class="r" y="912"><tspan x="2195">get</tspan><tspan x="2237">height</tspan></text>
<rect class="g" x="2190" y="926" width="260" height="20"/><text class="r" y="941"><tspan x="2195">set</tspan><tspan x="2237">pauseKeys</tspan></text>
<rect class="g" x="2190" y="946" width="260" height="20"/><text class="r" y="961"><tspan x="2195">set</tspan><tspan x="2237">frameForwardKeys</tspan></text>
<rect class="g" x="2190" y="966" width="260" height="20"/><text class="r" y="981"><tspan x="2195">set</tspan><tspan x="2237">enableGrid</tspan></text>
<rect class="g" x="2190" y="986" width="260" height="20"/><text class="r" y="1001"><tspan x="2195">set</tspan><tspan x="2237">overlayAsBackground</tspan></text>
<rect class="g" x="2190" y="1006" width="260" height="20"/><text class="r" y="1021"><tspan x="2195">set</tspan><tspan x="2237">trackMouse</tspan></text>
<rect class="f" x="2190" y="1037" width="260" height="20"/><text class="r" y="1052"><tspan x="2195">( )</tspan><tspan x="2237">start</tspan></text>
<rect class="f" x="2190" y="1057" width="260" height="20"/><text class="r" y="1072"><tspan x="2195">( )</tspan><tspan x="2237">saveContext</tspan></text>
<rect class="f" x="2190" y="1077" width="260" height="20"/><text class="r" y="1092"><tspan x="2195">( )</tspan><tspan x="2237">restoreContext</tspan></text>
<path class="dv" d="M2231,747V767M2231,772V852M2231,857V917M2231,926V1026M2231,1037V1097"/></g>

<g id="pan-zoom-manager"><rect class="bx" x="2536" y="781" width="279" height="303" rx="5"/><rect class="bl" x="2555" y="789" width="239" height="25" rx="5"/><text class="tt" x="2674.5" y="807.5">Pan/Zoom Manager</text><line class="sp" x1="2544" y1="818" x2="2807" y2="818"/>
<rect class="g" x="2545" y="827" width="259" height="20"/><text class="r" y="842"><tspan x="2550">get</tspan><tspan x="2590">scalingAllowed</tspan></text>
<rect class="g" x="2545" y="852" width="259" height="20"/><text class="r" y="867"><tspan x="2550">set</tspan><tspan x="2590">minScale</tspan></text>
<rect class="g" x="2545" y="872" width="259" height="20"/><text class="r" y="887"><tspan x="2550">set</tspan><tspan x="2590">maxScale</tspan></text>
<rect class="g" x="2545" y="892" width="259" height="20"/><text class="r" y="907"><tspan x="2550">set</tspan><tspan x="2590">scaleStep</tspan></text>
<rect class="g" x="2545" y="912" width="259" height="20"/><text class="r" y="927"><tspan x="2550">set</tspan><tspan x="2590">panningAllowed</tspan></text>
<rect class="g" x="2545" y="932" width="259" height="20"/><text class="r" y="947"><tspan x="2550">set</tspan><tspan x="2590">panSpeed</tspan></text>
<rect class="t" x="2545" y="962" width="259" height="20"/><text class="r" y="977"><tspan x="2550">on</tspan><tspan x="2590">zoom</tspan></text>
<rect class="t" x="2545" y="982" width="259" height="20"/><text class="r" y="997"><tspan x="2550">on</tspan><tspan x="2590">pan</tspan></text>
<rect class="t" x="2545" y="1002" width="259" height="20"/><text class="r" y="1017"><tspan x="2550">on</tspan><tspan x="2590">reset</tspan></text>
<rect class="f" x="2545" y="1032" width="259" height="20"/><text class="r" y="1047"><tspan x="2550">( )</tspan><tspan x="2590">zoomIn</tspan></text>
<rect class="f" x="2545" y="1052" width="259" height="20"/><text class="r" y="1067"><tspan x="2550">( )</tspan><tspan x="2590">zoomOut</tspan></text>
<path class="dv" d="M2584,827V847M2584,852V952M2584,962V1022M2584,1032V1072"/></g>

<g id="pan-zoom-event-type-ref-1"><rect class="ebx" x="2913" y="812" width="231" height="49" rx="3"/><rect class="eb" x="2928" y="824" width="206" height="25" rx="5"/><text class="tt" x="3031" y="842.5">PAN_ZOOM_EVENT_TYPE</text></g>
<g id="canvas-event-ref-2"><rect class="bx" x="2867" y="940" width="180" height="43" rx="3"/><rect class="rd" x="2878" y="948" width="158" height="25" rx="5"/><text class="tt" x="2957" y="966.5">Canvas Event</text></g>
<g id="pan-zoom-data-ref-2"><rect class="bx" x="2943" y="1030" width="179" height="44" rx="3"/><rect class="bl" x="2954" y="1039" width="158" height="25" rx="5"/><text class="tt" x="3033" y="1057.5">Pan/Zoom Data</text></g>

<g id="window-manager"><rect class="bx" x="2197" y="1177" width="210" height="76" rx="5"/><rect class="bl" x="2213" y="1186" width="175" height="24" rx="5"/><text class="tt" x="2300.5" y="1204">Window Manager</text><line class="sp" x1="2205" y1="1214" x2="2399" y2="1214"/>
<rect class="f" x="2218" y="1222" width="168" height="20"/><text class="r" y="1237"><tspan x="2222">( )</tspan><tspan x="2258">Fit</tspan></text>
<path class="dv" d="M2252,1222V1242"/></g>

<g id="mouse-state-ref-1"><rect class="ebx" x="2196" y="1295" width="211" height="48" rx="3"/><rect class="eb" x="2209" y="1306" width="182" height="25" rx="5"/><text class="tt" x="2300" y="1324.5">MOUSE_STATE</text></g>
<g id="ui-event-type-ref-1"><rect class="ebx" x="2206" y="1370" width="211" height="48" rx="3"/><rect class="eb" x="2221" y="1381" width="182" height="26" rx="5"/><text class="tt" x="2312" y="1400">UI_EVENT_TYPE</text></g>

<g id="element-base"><rect class="bx" x="1845" y="976" width="279" height="714" rx="5"/><line x1="1845" y1="978" x2="1845" y2="1542" stroke="#e04040" stroke-width="1.5"/><rect class="bl" x="1864" y="983" width="239" height="25" rx="5"/><text class="tt" x="1983.5" y="1001.5">Element Base</text><line class="sp" x1="1853" y1="1012" x2="2116" y2="1012"/>
<rect class="g" x="1853" y="1021" width="262" height="20"/><text class="r" y="1036"><tspan x="1858">get</tspan><tspan x="1900">baseElement</tspan></text>
<rect class="g" x="1853" y="1041" width="262" height="20"/><text class="r" y="1056"><tspan x="1858">get</tspan><tspan x="1900">activeColor</tspan></text>
<rect class="g" x="1853" y="1061" width="262" height="20"/><text class="r" y="1076"><tspan x="1858">get</tspan><tspan x="1900">activeOutline</tspan></text>
<rect class="g" x="1853" y="1081" width="262" height="20"/><text class="r" y="1096"><tspan x="1858">get</tspan><tspan x="1900">activeShadow</tspan></text>
<rect class="g" x="1853" y="1101" width="262" height="20"/><text class="r" y="1116"><tspan x="1858">get</tspan><tspan x="1900">content</tspan></text>
<rect class="g" x="1853" y="1121" width="262" height="20"/><text class="r" y="1136"><tspan x="1858">get</tspan><tspan x="1900">isDraggable</tspan></text>
<rect class="g" x="1853" y="1141" width="262" height="20"/><text class="r" y="1156"><tspan x="1858">get</tspan><tspan x="1900">isResizable</tspan></text>
<rect class="g" x="1853" y="1171" width="262" height="20"/><text class="r" y="1186"><tspan x="1858">set</tspan><tspan x="1900">defaultColor</tspan></text>
<rect class="g" x="1853" y="1191" width="262" height="20"/><text class="r" y="1206"><tspan x="1858">set</tspan><tspan x="1900">defaultOutline</tspan></text>
<rect class="g" x="1853" y="1211" width="262" height="20"/><text class="r" y="1226"><tspan x="1858">set</tspan><tspan x="1900">defaultShadow</tspan></text>
<rect class="g" x="1853" y="1236" width="262" height="20"/><text class="r" y="1251"><tspan x="1858">set</tspan><tspan x="1900">activeColor</tspan></text>
<rect class="g" x="1853" y="1256" width="262" height="20"/><text class="r" y="1271"><tspan x="1858">set</tspan><tspan x="1900">activeOutline</tspan></text>
<rect class="g" x="1853" y="1276" width="262" height="20"/><text class="r" y="1291"><tspan x="1858">set</tspan><tspan x="1900">activeShadow</tspan></text>
<rect class="g" x="1853" y="1301" width="262" height="20"/><text class="r" y="1316"><tspan x="1858">set</tspan><tspan x="1900">baseElement</tspan></text>
<rect class="g" x="1853" y="1321" width="262" height="20"/><text class="r" y="1336"><tspan x="1858">set</tspan><tspan x="1900">content</tspan></text>
<rect class="g" x="1853" y="1341" width="262" height="20"/><text class="r" y="1356"><tspan x="1858">set</tspan><tspan x="1900">isDraggable</tspan></text>
<rect class="g" x="1853" y="1361" width="262" height="20"/><text class="r" y="1376"><tspan x="1858">set</tspan><tspan x="1900">isResizable</tspan></text>
<rect class="t" x="1853" y="1391" width="262" height="20"/><text class="r" y="1406"><tspan x="1858">on</tspan><tspan x="1900">down</tspan></text>
<rect class="t" x="1853" y="1411" width="262" height="20"/><text class="r" y="1426"><tspan x="1858">on</tspan><tspan x="1900">up</tspan></text>
<rect class="t" x="1853" y="1431" width="262" height="20"/><text class="r" y="1446"><tspan x="1858">on</tspan><tspan x="1900">hover</tspan></text>
<rect class="t" x="1853" y="1451" width="262" height="20"/><text class="r" y="1466"><tspan x="1858">on</tspan><tspan x="1900">move</tspan></text>
<rect class="t" x="1853" y="1471" width="262" height="20"/><text class="r" y="1486"><tspan x="1858">on</tspan><tspan x="1900">out</tspan></text>
<rect class="f" x="1853" y="1501" width="262" height="20"/><text class="r" y="1516"><tspan x="1858">( )</tspan><tspan x="1900">elementMouseDown</tspan></text>
<rect class="f" x="1853" y="1521" width="262" height="20"/><text class="r" y="1536"><tspan x="1858">( )</tspan><tspan x="1900">elementMouseUp</tspan></text>
<rect class="f" x="1853" y="1541" width="262" height="20"/><text class="r" y="1556"><tspan x="1858">( )</tspan><tspan x="1900">elementMouseHover</tspan></text>
<rect class="f" x="1853" y="1561" width="262" height="20"/><text class="r" y="1576"><tspan x="1858">( )</tspan><tspan x="1900">elementMouseMove</tspan></text>
<rect class="f" x="1853" y="1581" width="262" height="20"/><text class="r" y="1596"><tspan x="1858">( )</tspan><tspan x="1900">elementMouseleave</tspan></text>
<rect class="f" x="1853" y="1601" width="262" height="20"/><text class="r" y="1616"><tspan x="1858">( )</tspan><tspan x="1900">elementMouseOut</tspan></text>
<rect class="f" x="1853" y="1621" width="262" height="20"/><text class="r" y="1636"><tspan x="1858">( )</tspan><tspan x="1900">draw</tspan></text>
<rect class="f" x="1853" y="1641" width="262" height="20"/><text class="r" y="1656"><tspan x="1858">( )</tspan><tspan x="1900">setPosition</tspan></text>
<rect class="f" x="1853" y="1661" width="262" height="20"/><text class="r" y="1676"><tspan x="1858">( )</tspan><tspan x="1900">getposition</tspan></text>
<path class="dv" d="M1894,1021V1161M1894,1171V1231M1894,1236V1296M1894,1301V1381M1894,1391V1491M1894,1501V1681"/></g>

<g id="line-style-ref-2"><rect class="bx" x="1674" y="1281" width="142" height="42" rx="3"/><rect class="bl" x="1684" y="1289" width="124" height="26" rx="5"/><text class="tt" x="1746" y="1308">Line Style</text></g>
<g id="color-ref-1"><rect class="bx" x="1692" y="1363" width="106" height="43" rx="3"/><rect class="bl" x="1702" y="1372" width="88" height="24" rx="5"/><text class="tt" x="1746" y="1390">Color</text></g>
<g id="shadow-ref-2"><rect class="bx" x="1690" y="1450" width="108" height="42" rx="3"/><rect class="bl" x="1700" y="1459" width="89" height="24" rx="5"/><text class="tt" x="1744.5" y="1477">Shadow</text></g>
<g id="canvas-event-ref-3"><rect class="bx" x="1596" y="1531" width="178" height="42" rx="3"/><rect class="rd" x="1606" y="1539" width="158" height="25" rx="5"/><text class="tt" x="1685" y="1557.5">Canvas Event</text></g>
<g id="mouse-data-ref-3"><rect class="bx" x="1596" y="1615" width="178" height="43" rx="3"/><rect class="bl" x="1606" y="1624" width="158" height="25" rx="5"/><text class="tt" x="1685" y="1642.5">Mouse Data</text></g>

<g id="mouse-manager-ref-1"><rect class="bx" x="2303" y="1489" width="178" height="42" rx="3"/><rect class="bl" x="2314" y="1497" width="158" height="25" rx="5"/><text class="tt" x="2393" y="1515.5">Mouse Manager</text></g>
<g id="canvas-event-ref-4"><rect class="bx" x="2282" y="1582" width="178" height="42" rx="3"/><rect class="rd" x="2292" y="1589" width="158" height="25" rx="5"/><text class="tt" x="2371" y="1607.5">Canvas Event</text></g>
<g id="mouse-data-ref-4"><rect class="bx" x="2297" y="1676" width="178" height="42" rx="3"/><rect class="bl" x="2307" y="1683" width="158" height="25" rx="5"/><text class="tt" x="2386" y="1701.5">Mouse Data</text></g>

<g id="ui-manager"><rect class="bx" x="2593" y="1148" width="278" height="538" rx="5"/><rect class="bl" x="2612" y="1155" width="240" height="25" rx="5"/><text class="tt" x="2732" y="1173.5">UI Manager</text><line class="sp" x1="2601" y1="1184" x2="2863" y2="1184"/>
<rect class="g" x="2603" y="1193" width="260" height="20"/><text class="r" y="1208"><tspan x="2608">get</tspan><tspan x="2649">uiEnabled</tspan></text>
<rect class="g" x="2603" y="1213" width="260" height="20"/><text class="r" y="1228"><tspan x="2608">get</tspan><tspan x="2649">uiBuffer</tspan></text>
<rect class="g" x="2603" y="1233" width="260" height="20"/><text class="r" y="1248"><tspan x="2608">get</tspan><tspan x="2649">mainBuffer</tspan></text>
<rect class="g" x="2603" y="1253" width="260" height="20"/><text class="r" y="1268"><tspan x="2608">get</tspan><tspan x="2649">debugBuffer</tspan></text>
<rect class="g" x="2603" y="1273" width="260" height="20"/><text class="r" y="1288"><tspan x="2608">get</tspan><tspan x="2649">uiMouseState</tspan></text>
<rect class="g" x="2603" y="1293" width="260" height="20"/><text class="r" y="1308"><tspan x="2608">get</tspan><tspan x="2649">debugEnabled</tspan></text>
<rect class="g" x="2603" y="1324" width="260" height="20"/><text class="r" y="1339"><tspan x="2608">set</tspan><tspan x="2649">enableUI</tspan></text>
<rect class="g" x="2603" y="1344" width="260" height="20"/><text class="r" y="1359"><tspan x="2608">set</tspan><tspan x="2649">enableDebug</tspan></text>
<rect class="f" x="2603" y="1374" width="260" height="20"/><text class="r" y="1389"><tspan x="2608">( )</tspan><tspan x="2649">addUIElement</tspan></text>
<rect class="f" x="2603" y="1394" width="260" height="20"/><text class="r" y="1409"><tspan x="2608">( )</tspan><tspan x="2649">addUIElements</tspan></text>
<rect class="f" x="2603" y="1414" width="260" height="20"/><text class="r" y="1429"><tspan x="2608">( )</tspan><tspan x="2649">removeUIElement</tspan></text>
<rect class="f" x="2603" y="1434" width="260" height="20"/><text class="r" y="1449"><tspan x="2608">( )</tspan><tspan x="2649">removeUIElements</tspan></text>
<rect class="f" x="2603" y="1459" width="260" height="20"/><text class="r" y="1474"><tspan x="2608">( )</tspan><tspan x="2649">addToMainBuffer</tspan></text>
<rect class="f" x="2603" y="1479" width="260" height="20"/><text class="r" y="1494"><tspan x="2608">( )</tspan><tspan x="2649">drawMainBuffer</tspan></text>
<rect class="f" x="2603" y="1499" width="260" height="20"/><text class="r" y="1514"><tspan x="2608">( )</tspan><tspan x="2649">clearMainBuffer</tspan></text>
<rect class="f" x="2603" y="1524" width="260" height="20"/><text class="r" y="1539"><tspan x="2608">( )</tspan><tspan x="2649">addToUiBuffer</tspan></text>
<rect class="f" x="2603" y="1544" width="260" height="20"/><text class="r" y="1559"><tspan x="2608">( )</tspan><tspan x="2649">drawUiBuffer</tspan></text>
<rect class="f" x="2603" y="1564" width="260" height="20"/><text class="r" y="1579"><tspan x="2608">( )</tspan><tspan x="2649">clearUiBuffer</tspan></text>
<rect class="f" x="2603" y="1589" width="260" height="20"/><text class="r" y="1604"><tspan x="2608">( )</tspan><tspan x="2649">addToDeubgBuffer</tspan></text>
<rect class="f" x="2603" y="1609" width="260" height="20"/><text class="r" y="1624"><tspan x="2608">( )</tspan><tspan x="2649">drawDebugBuffer</tspan></text>
<rect class="f" x="2603" y="1629" width="260" height="20"/><text class="r" y="1644"><tspan x="2608">( )</tspan><tspan x="2649">clearDebugBuffer</tspan></text>
<rect class="f" x="2603" y="1654" width="260" height="20"/><text class="r" y="1669"><tspan x="2608">( )</tspan><tspan x="2649">mouseStateChange*</tspan></text>
<path class="dv" d="M2643,1193V1313M2643,1324V1364M2643,1374V1454M2643,1459V1519M2643,1524V1584M2643,1589V1649M2643,1654V1674"/></g>

<g id="mouse-data"><rect class="bx" x="508" y="946" width="261" height="429" rx="5"/><rect class="bl" x="530" y="954" width="221" height="25" rx="5"/><text class="tt" x="640.5" y="972.5">Mouse Data</text><line class="sp" x1="516" y1="984" x2="761" y2="984"/>
<rect class="g" x="518" y="991" width="243" height="20"/><text class="r" y="1006"><tspan x="523">get</tspan><tspan x="564">uiMouseState</tspan></text>
<rect class="g" x="518" y="1011" width="243" height="20"/><text class="r" y="1026"><tspan x="523">get</tspan><tspan x="564">eventType</tspan></text>
<rect class="g" x="518" y="1031" width="243" height="20"/><text class="r" y="1046"><tspan x="523">get</tspan><tspan x="564">translatedPosition</tspan></text>
<rect class="g" x="518" y="1051" width="243" height="20"/><text class="r" y="1066"><tspan x="523">get</tspan><tspan x="564">mousePosition</tspan></text>
<rect class="g" x="518" y="1071" width="243" height="20"/><text class="r" y="1086"><tspan x="523">get</tspan><tspan x="564">clickPosition</tspan></text>
<rect class="g" x="518" y="1091" width="243" height="20"/><text class="r" y="1106"><tspan x="523">get</tspan><tspan x="564">mouseOnCanvas</tspan></text>
<rect class="g" x="518" y="1111" width="243" height="20"/><text class="r" y="1126"><tspan x="523">get</tspan><tspan x="564">scrollDirection</tspan></text>
<rect class="g" x="518" y="1131" width="243" height="20"/><text class="r" y="1146"><tspan x="523">get</tspan><tspan x="564">leftMouseState</tspan></text>
<rect class="g" x="518" y="1151" width="243" height="20"/><text class="r" y="1166"><tspan x="523">get</tspan><tspan x="564">mouseMoving</tspan></text>
<rect class="g" x="518" y="1181" width="243" height="20"/><text class="r" y="1196"><tspan x="523">set</tspan><tspan x="564">uiMouseState</tspan></text>
<rect class="g" x="518" y="1201" width="243" height="20"/><text class="r" y="1216"><tspan x="523">set</tspan><tspan x="564">eventType</tspan></text>
<rect class="g" x="518" y="1221" width="243" height="20"/><text class="r" y="1236"><tspan x="523">set</tspan><tspan x="564">translatedPosition</tspan></text>
<rect class="g" x="518" y="1241" width="243" height="20"/><text class="r" y="1256"><tspan x="523">set</tspan><tspan x="564">mousePosition</tspan></text>
<rect class="g" x="518" y="1261" width="243" height="20"/><text class="r" y="1276"><tspan x="523">set</tspan><tspan x="564">clickPosition</tspan></text>
<rect class="g" x="518" y="1281" width="243" height="20"/><text class="r" y="1296"><tspan x="523">set</tspan><tspan x="564">mouseOnCanvas</tspan></text>
<rect class="g" x="518" y="1301" width="243" height="20"/><text class="r" y="1316"><tspan x="523">set</tspan><tspan x="564">scrollDirection</tspan></text>
<rect class="g" x="518" y="1321" width="243" height="20"/><text class="r" y="1336"><tspan x="523">set</tspan><tspan x="564">leftMouseState</tspan></text>
<rect class="g" x="518" y="1341" width="243" height="20"/><text class="r" y="1356"><tspan x="523">set</tspan><tspan x="564">mouseMoving</tspan></text>
<path class="dv" d="M558,991V1171M558,1181V1361"/></g>

<g id="vector-ref-3"><rect class="bx" x="842" y="1001" width="108" height="43" rx="3"/><rect class="bl" x="852" y="1010" width="88" height="25" rx="5"/><text class="tt" x="896" y="1028.5">Vector</text></g>
<g id="mouse-event-type-ref-2"><rect class="ebx" x="812" y="1097" width="210" height="49" rx="3"/><rect class="eb" x="825" y="1110" width="182" height="24" rx="5"/><text class="tt" x="916" y="1128">MOUSE_EVENT_TYPE</text></g>
<g id="mouse-state-ref-2"><rect class="ebx" x="822" y="1204" width="170" height="50" rx="3"/><rect class="eb" x="834" y="1217" width="145" height="24" rx="5"/><text class="tt" x="906.5" y="1235">MOUSE_STATE</text></g>
<g id="pan-zoom-event-type-ref-2"><rect class="ebx" x="176" y="1035" width="230" height="49" rx="3"/><rect class="eb" x="188" y="1048" width="208" height="24" rx="5"/><text class="tt" x="292" y="1066">PAN_ZOOM_EVENT_TYPE</text></g>

<g id="pan-zoom-data"><rect class="bx" x="262" y="1145" width="210" height="226" rx="5"/><rect class="bl" x="272" y="1152" width="190" height="26" rx="5"/><text class="tt" x="367" y="1171">Pan/Zoom Data</text><line class="sp" x1="270" y1="1182" x2="464" y2="1182"/>
<rect class="g" x="269" y="1189" width="194" height="20"/><text class="r" y="1204"><tspan x="274">get</tspan><tspan x="316">eventType</tspan></text>
<rect class="g" x="269" y="1209" width="194" height="20"/><text class="r" y="1224"><tspan x="274">get</tspan><tspan x="316">scale</tspan></text>
<rect class="g" x="269" y="1229" width="194" height="20"/><text class="r" y="1244"><tspan x="274">get</tspan><tspan x="316">pan</tspan></text>
<rect class="g" x="269" y="1249" width="194" height="20"/><text class="r" y="1264"><tspan x="274">get</tspan><tspan x="316">mousePosition</tspan></text>
<rect class="g" x="269" y="1279" width="194" height="20"/><text class="r" y="1294"><tspan x="274">set</tspan><tspan x="316">eventType</tspan></text>
<rect class="g" x="269" y="1299" width="194" height="20"/><text class="r" y="1314"><tspan x="274">set</tspan><tspan x="316">scale</tspan></text>
<rect class="g" x="269" y="1319" width="194" height="20"/><text class="r" y="1334"><tspan x="274">set</tspan><tspan x="316">pan</tspan></text>
<rect class="g" x="269" y="1339" width="194" height="20"/><text class="r" y="1354"><tspan x="274">set</tspan><tspan x="316">mousePosition</tspan></text>
<path class="dv" d="M310,1189V1269M310,1279V1359"/></g>

<g id="vector-ref-4"><rect class="bx" x="123" y="1217" width="108" height="42" rx="3"/><rect class="bl" x="133" y="1226" width="89" height="24" rx="5"/><text class="tt" x="177.5" y="1244">Vector</text></g>

<g id="vector"><rect class="bx" x="2" y="1375" width="152" height="212" rx="5"/><rect class="bl" x="11" y="1382" width="134" height="26" rx="5"/><text class="tt" x="78" y="1401">Vector</text><line class="sp" x1="10" y1="1412" x2="146" y2="1412"/>
<rect class="g" x="10" y="1421" width="135" height="20"/><text class="r" y="1436"><tspan x="15">get</tspan><tspan x="57">x</tspan></text>
<rect class="g" x="10" y="1441" width="135" height="20"/><text class="r" y="1456"><tspan x="15">get</tspan><tspan x="57">y</tspan></text>
<rect class="g" x="10" y="1471" width="135" height="20"/><text class="r" y="1486"><tspan x="15">set</tspan><tspan x="57">x</tspan></text>
<rect class="g" x="10" y="1491" width="135" height="20"/><text class="r" y="1506"><tspan x="15">set</tspan><tspan x="57">y</tspan></text>
<rect class="f" x="10" y="1520" width="135" height="20"/><text class="r" y="1535"><tspan x="15">( )</tspan><tspan x="57">slope</tspan></text>
<rect class="f" x="10" y="1540" width="135" height="20"/><text class="r" y="1555"><tspan x="15">( )</tspan><tspan x="57">rotate</tspan></text>
<rect class="f" x="10" y="1560" width="135" height="20"/><text class="r" y="1575"><tspan x="15">( )</tspan><tspan x="57">distance</tspan></text>
<path class="dv" d="M51,1421V1461M51,1471V1511M51,1520V1580"/></g>

<g id="shape-base"><rect class="bx" x="286" y="1420" width="161" height="230" rx="5"/><rect class="bl" x="295" y="1428" width="140" height="25" rx="5"/><text class="tt" x="365" y="1446.5">Shape Base</text><line class="sp" x1="294" y1="1457" x2="439" y2="1457"/>
<rect class="g" x="296" y="1466" width="140" height="20"/><text class="r" y="1481"><tspan x="301">get</tspan><tspan x="342">position</tspan></text>
<rect class="g" x="296" y="1486" width="140" height="20"/><text class="r" y="1501"><tspan x="301">get</tspan><tspan x="342">color</tspan></text>
<rect class="g" x="296" y="1506" width="140" height="20"/><text class="r" y="1521"><tspan x="301">get</tspan><tspan x="342">outline</tspan></text>
<rect class="g" x="296" y="1526" width="140" height="20"/><text class="r" y="1541"><tspan x="301">get</tspan><tspan x="342">shadow</tspan></text>
<rect class="g" x="296" y="1556" width="140" height="20"/><text class="r" y="1571"><tspan x="301">set</tspan><tspan x="342">position</tspan></text>
<rect class="g" x="296" y="1576" width="140" height="20"/><text class="r" y="1591"><tspan x="301">set</tspan><tspan x="342">color</tspan></text>
<rect class="g" x="296" y="1596" width="140" height="20"/><text class="r" y="1611"><tspan x="301">set</tspan><tspan x="342">outline</tspan></text>
<rect class="g" x="296" y="1616" width="140" height="20"/><text class="r" y="1631"><tspan x="301">set</tspan><tspan x="342">shadow</tspan></text>
<path class="dv" d="M336,1466V1546M336,1556V1636"/></g>

<g id="color"><rect class="bx" x="17" y="1624" width="138" height="143" rx="5"/><rect class="bl" x="30" y="1632" width="109" height="24" rx="5"/><text class="tt" x="84.5" y="1650">Color</text><line class="sp" x1="25" y1="1661" x2="147" y2="1661"/>
<rect class="g" x="26" y="1670" width="119" height="20"/><text class="r" y="1685"><tspan x="31">get</tspan><tspan x="74">shade</tspan></text>
<rect class="g" x="26" y="1690" width="119" height="20"/><text class="r" y="1705"><tspan x="31">get</tspan><tspan x="74">alpha</tspan></text>
<rect class="g" x="26" y="1720" width="119" height="20"/><text class="r" y="1735"><tspan x="31">set</tspan><tspan x="74">shade</tspan></text>
<rect class="g" x="26" y="1740" width="119" height="20"/><text class="r" y="1755"><tspan x="31">set</tspan><tspan x="74">alpha</tspan></text>
<path class="dv" d="M68,1670V1710M68,1720V1760"/></g>

<g id="line-style"><rect class="bx" x="195" y="1766" width="137" height="109" rx="5"/><rect class="bl" x="208" y="1774" width="109" height="25" rx="5"/><text class="tt" x="262.5" y="1792.5">Line Style</text><line class="sp" x1="203" y1="1803" x2="324" y2="1803"/>
<rect class="g" x="204" y="1811" width="119" height="20"/><text class="r" y="1826"><tspan x="209">get</tspan><tspan x="251">width</tspan></text>
<rect class="g" x="204" y="1841" width="119" height="20"/><text class="r" y="1856"><tspan x="209">set</tspan><tspan x="251">width</tspan></text>
<path class="dv" d="M245,1811V1831M245,1841V1861"/></g>

<g id="shadow"><rect class="bx" x="372" y="1723" width="186" height="224" rx="5"/><rect class="bl" x="391" y="1731" width="149" height="25" rx="5"/><text class="tt" x="465.5" y="1749.5">Shadow</text><line class="sp" x1="380" y1="1760" x2="550" y2="1760"/>
<rect class="g" x="381" y="1768" width="168" height="20"/><text class="r" y="1783"><tspan x="386">get</tspan><tspan x="428">shadowBlur</tspan></text>
<rect class="g" x="381" y="1788" width="168" height="20"/><text class="r" y="1803"><tspan x="386">get</tspan><tspan x="428">shadowColor</tspan></text>
<rect class="g" x="381" y="1808" width="168" height="20"/><text class="r" y="1823"><tspan x="386">get</tspan><tspan x="428">offsetX</tspan></text>
<rect class="g" x="381" y="1828" width="168" height="20"/><text class="r" y="1843"><tspan x="386">get</tspan><tspan x="428">offsetY</tspan></text>
<rect class="g" x="381" y="1858" width="168" height="20"/><text class="r" y="1873"><tspan x="386">set</tspan><tspan x="428">shadowBlur</tspan></text>
<rect class="g" x="381" y="1878" width="168" height="20"/><text class="r" y="1893"><tspan x="386">set</tspan><tspan x="428">shadowColor</tspan></text>
<rect class="g" x="381" y="1898" width="168" height="20"/><text class="r" y="1913"><tspan x="386">set</tspan><tspan x="428">offsetX</tspan></text>
<rect class="g" x="381" y="1918" width="168" height="20"/><text class="r" y="1933"><tspan x="386">set</tspan><tspan x="428">offsetY</tspan></text>
<path class="dv" d="M422,1768V1848M422,1858V1938"/></g>

<g id="corner"><rect class="bx" x="525" y="1415" width="197" height="145" rx="5"/><rect class="bl" x="546" y="1423" width="158" height="26" rx="5"/><text class="tt" x="625" y="1442">Corner</text><line class="sp" x1="533" y1="1452" x2="714" y2="1452"/>
<rect class="g" x="536" y="1460" width="178" height="20"/><text class="r" y="1475"><tspan x="541">get</tspan><tspan x="584">controlPoint</tspan></text>
<rect class="g" x="536" y="1480" width="178" height="20"/><text class="r" y="1495"><tspan x="541">get</tspan><tspan x="584">endingPoint</tspan></text>
<rect class="g" x="536" y="1510" width="178" height="20"/><text class="r" y="1525"><tspan x="541">set</tspan><tspan x="584">controlPoint</tspan></text>
<rect class="g" x="536" y="1530" width="178" height="20"/><text class="r" y="1545"><tspan x="541">set</tspan><tspan x="584">endingPoint</tspan></text>
<path class="dv" d="M578,1460V1500M578,1510V1550"/></g>

<g id="size"><rect class="bx" x="753" y="1414" width="149" height="144" rx="5"/><rect class="bl" x="768" y="1422" width="116" height="26" rx="5"/><text class="tt" x="826" y="1441">Size</text><line class="sp" x1="761" y1="1452" x2="894" y2="1452"/>
<rect class="g" x="764" y="1460" width="126" height="20"/><text class="r" y="1475"><tspan x="769">get</tspan><tspan x="813">width</tspan></text>
<rect class="g" x="764" y="1480" width="126" height="20"/><text class="r" y="1495"><tspan x="769">get</tspan><tspan x="813">height</tspan></text>
<rect class="g" x="764" y="1510" width="126" height="20"/><text class="r" y="1525"><tspan x="769">set</tspan><tspan x="813">width</tspan></text>
<rect class="g" x="764" y="1530" width="126" height="20"/><text class="r" y="1545"><tspan x="769">set</tspan><tspan x="813">height</tspan></text>
<path class="dv" d="M807,1460V1500M807,1510V1550"/></g>

<g id="velocity"><rect class="bx" x="937" y="1410" width="133" height="145" rx="5"/><rect class="bl" x="952" y="1418" width="102" height="25" rx="5"/><text class="tt" x="1003" y="1436.5">Velocity</text><line class="sp" x1="945" y1="1447" x2="1062" y2="1447"/>
<rect class="g" x="949" y="1456" width="111" height="20"/><text class="r" y="1471"><tspan x="957">get</tspan><tspan x="1004">vx</tspan></text>
<rect class="g" x="949" y="1476" width="111" height="20"/><text class="r" y="1491"><tspan x="957">get</tspan><tspan x="1004">vy</tspan></text>
<rect class="g" x="949" y="1506" width="111" height="20"/><text class="r" y="1521"><tspan x="957">set</tspan><tspan x="1004">vx</tspan></text>
<rect class="g" x="949" y="1526" width="111" height="20"/><text class="r" y="1541"><tspan x="957">set</tspan><tspan x="1004">vy</tspan></text>
<path class="dv" d="M998,1456V1496M998,1506V1546"/></g>

<g id="bounds"><rect class="bx" x="650" y="1626" width="224" height="294" rx="5"/><rect class="bl" x="669" y="1633" width="188" height="26" rx="5"/><text class="tt" x="763" y="1652">Bounds</text><line class="sp" x1="658" y1="1663" x2="866" y2="1663"/>
<rect class="g" x="662" y="1670" width="200" height="20"/><text class="r" y="1685"><tspan x="667">get</tspan><tspan x="708">x</tspan></text>
<rect class="g" x="662" y="1690" width="200" height="20"/><text class="r" y="1705"><tspan x="667">get</tspan><tspan x="708">y</tspan></text>
<rect class="g" x="662" y="1710" width="200" height="20"/><text class="r" y="1725"><tspan x="667">get</tspan><tspan x="708">width</tspan></text>
<rect class="g" x="662" y="1730" width="200" height="20"/><text class="r" y="1745"><tspan x="667">get</tspan><tspan x="708">height</tspan></text>
<rect class="g" x="662" y="1750" width="200" height="20"/><text class="r" y="1765"><tspan x="667">get</tspan><tspan x="708">topLeft</tspan></text>
<rect class="g" x="662" y="1770" width="200" height="20"/><text class="r" y="1785"><tspan x="667">get</tspan><tspan x="708">topRight</tspan></text>
<rect class="g" x="662" y="1790" width="200" height="20"/><text class="r" y="1805"><tspan x="667">get</tspan><tspan x="708">bottomLeft</tspan></text>
<rect class="g" x="662" y="1810" width="200" height="20"/><text class="r" y="1825"><tspan x="667">get</tspan><tspan x="708">bottomRight</tspan></text>
<rect class="g" x="662" y="1830" width="200" height="20"/><text class="r" y="1845"><tspan x="667">get</tspan><tspan x="708">topLength</tspan></text>
<rect class="g" x="662" y="1850" width="200" height="20"/><text class="r" y="1865"><tspan x="667">get</tspan><tspan x="708">bottomLength</tspan></text>
<rect class="g" x="662" y="1870" width="200" height="20"/><text class="r" y="1885"><tspan x="667">get</tspan><tspan x="708">left_height</tspan></text>
<rect class="g" x="662" y="1890" width="200" height="20"/><text class="r" y="1905"><tspan x="667">get</tspan><tspan x="708">right_height</tspan></text>
<path class="dv" d="M702,1670V1910"/></g>

<g id="vector-ref-5"><rect class="bx" x="905" y="1681" width="109" height="42" rx="3"/><rect class="bl" x="915" y="1690" width="88" height="24" rx="5"/><text class="tt" x="959" y="1708">Vector</text></g>

<g id="quad-tree"><rect class="bx" x="3088" y="1304" width="209" height="431" rx="5"/><rect class="bl" x="3108" y="1309" width="169" height="24" rx="5"/><text class="tt" x="3192.5" y="1327">Quad Tree</text><line class="sp" x1="3096" y1="1337" x2="3289" y2="1337"/>
<rect class="g" x="3096" y="1345" width="192" height="18"/><text class="r" y="1359"><tspan x="3099">get</tspan><tspan x="3135">boundary</tspan></text>
<rect class="g" x="3096" y="1363" width="192" height="18"/><text class="r" y="1377"><tspan x="3099">get</tspan><tspan x="3135">capicity</tspan></text>
<rect class="g" x="3096" y="1381" width="192" height="18"/><text class="r" y="1395"><tspan x="3099">get</tspan><tspan x="3135">vectors</tspan></text>
<rect class="g" x="3096" y="1399" width="192" height="18"/><text class="r" y="1413"><tspan x="3099">get</tspan><tspan x="3135">isDivided</tspan></text>
<rect class="g" x="3096" y="1417" width="192" height="18"/><text class="r" y="1431"><tspan x="3099">get</tspan><tspan x="3135">topLeft</tspan></text>
<rect class="g" x="3096" y="1435" width="192" height="18"/><text class="r" y="1449"><tspan x="3099">get</tspan><tspan x="3135">topRight</tspan></text>
<rect class="g" x="3096" y="1453" width="192" height="18"/><text class="r" y="1467"><tspan x="3099">get</tspan><tspan x="3135">bottomLeft</tspan></text>
<rect class="g" x="3096" y="1471" width="192" height="18"/><text class="r" y="1485"><tspan x="3099">get</tspan><tspan x="3135">bottomRight</tspan></text>
<rect class="g" x="3096" y="1499" width="192" height="18"/><text class="r" y="1513"><tspan x="3099">set</tspan><tspan x="3135">boundary</tspan></text>
<rect class="g" x="3096" y="1517" width="192" height="18"/><text class="r" y="1531"><tspan x="3099">set</tspan><tspan x="3135">capicity</tspan></text>
<rect class="g" x="3096" y="1535" width="192" height="18"/><text class="r" y="1549"><tspan x="3099">set</tspan><tspan x="3135">vectors</tspan></text>
<rect class="g" x="3096" y="1553" width="192" height="18"/><text class="r" y="1567"><tspan x="3099">set</tspan><tspan x="3135">isDivided</tspan></text>
<rect class="g" x="3096" y="1571" width="192" height="18"/><text class="r" y="1585"><tspan x="3099">set</tspan><tspan x="3135">topLeft</tspan></text>
<rect class="g" x="3096" y="1589" width="192" height="18"/><text class="r" y="1603"><tspan x="3099">set</tspan><tspan x="3135">topRight</tspan></text>
<rect class="g" x="3096" y="1607" width="192" height="18"/><text class="r" y="1621"><tspan x="3099">set</tspan><tspan x="3135">bottomLeft</tspan></text>
<rect class="g" x="3096" y="1625" width="192" height="18"/><text class="r" y="1639"><tspan x="3099">set</tspan><tspan x="3135">bottomRight</tspan></text>
<rect class="f" x="3096" y="1653" width="192" height="18"/><text class="r" y="1667"><tspan x="3099">( )</tspan><tspan x="3135">insert</tspan></text>
<rect class="f" x="3096" y="1671" width="192" height="18"/><text class="r" y="1685"><tspan x="3099">( )</tspan><tspan x="3135">searchBoundary</tspan></text>
<rect class="f" x="3096" y="1689" width="192" height="18"/><text class="r" y="1703"><tspan x="3099">( )</tspan><tspan x="3135">reset</tspan></text>
<rect class="f" x="3096" y="1707" width="192" height="18"/><text class="r" y="1721"><tspan x="3099">( )</tspan><tspan x="3135">debugQuad</tspan></text>
<path class="dv" d="M3130,1345V1489M3130,1499V1643M3130,1653V1725"/></g>

<g id="quad-vector"><rect class="bx" x="3402" y="1266" width="166" height="170" rx="5"/><rect class="bl" x="3415" y="1274" width="136" height="23" rx="5"/><text class="tt" x="3483" y="1291.5">Quad Vector</text><line class="sp" x1="3410" y1="1302" x2="3560" y2="1302"/>
<rect class="g" x="3410" y="1309" width="148" height="18"/><text class="r" y="1323"><tspan x="3413">get</tspan><tspan x="3450">x</tspan></text>
<rect class="g" x="3410" y="1327" width="148" height="18"/><text class="r" y="1341"><tspan x="3413">get</tspan><tspan x="3450">y</tspan></text>
<rect class="g" x="3410" y="1345" width="148" height="18"/><text class="r" y="1359"><tspan x="3413">get</tspan><tspan x="3450">data</tspan></text>
<rect class="g" x="3410" y="1373" width="148" height="18"/><text class="r" y="1387"><tspan x="3413">set</tspan><tspan x="3450">x</tspan></text>
<rect class="g" x="3410" y="1391" width="148" height="18"/><text class="r" y="1405"><tspan x="3413">set</tspan><tspan x="3450">y</tspan></text>
<rect class="g" x="3410" y="1409" width="148" height="18"/><text class="r" y="1423"><tspan x="3413">set</tspan><tspan x="3450">data</tspan></text>
<path class="dv" d="M3444,1309V1363M3444,1373V1427"/></g>

<g id="boundary"><rect class="bx" x="3367" y="1497" width="210" height="259" rx="5"/><rect class="bl" x="3388" y="1504" width="169" height="23" rx="5"/><text class="tt" x="3472.5" y="1521.5">Boundary</text><line class="sp" x1="3375" y1="1532" x2="3569" y2="1532"/>
<rect class="g" x="3375" y="1540" width="194" height="18"/><text class="r" y="1554"><tspan x="3378">get</tspan><tspan x="3416">x</tspan></text>
<rect class="g" x="3375" y="1558" width="194" height="18"/><text class="r" y="1572"><tspan x="3378">get</tspan><tspan x="3416">y</tspan></text>
<rect class="g" x="3375" y="1576" width="194" height="18"/><text class="r" y="1590"><tspan x="3378">get</tspan><tspan x="3416">w</tspan></text>
<rect class="g" x="3375" y="1594" width="194" height="18"/><text class="r" y="1608"><tspan x="3378">get</tspan><tspan x="3416">h</tspan></text>
<rect class="g" x="3375" y="1622" width="194" height="18"/><text class="r" y="1636"><tspan x="3378">set</tspan><tspan x="3416">x</tspan></text>
<rect class="g" x="3375" y="1640" width="194" height="18"/><text class="r" y="1654"><tspan x="3378">set</tspan><tspan x="3416">y</tspan></text>
<rect class="g" x="3375" y="1658" width="194" height="18"/><text class="r" y="1672"><tspan x="3378">set</tspan><tspan x="3416">w</tspan></text>
<rect class="g" x="3375" y="1676" width="194" height="18"/><text class="r" y="1690"><tspan x="3378">set</tspan><tspan x="3416">h</tspan></text>
<rect class="f" x="3375" y="1703" width="194" height="19"/><text class="r" y="1718"><tspan x="3378">( )</tspan><tspan x="3416">containsVector</tspan></text>
<rect class="f" x="3375" y="1722" width="194" height="19"/><text class="r" y="1737"><tspan x="3378">( )</tspan><tspan x="3416">intersects</tspan></text>
<path class="dv" d="M3410,1540V1612M3410,1622V1694M3410,1703V1741"/></g>

<g id="connector-dots">
<circle class="d" cx="1087" cy="145" r="4"/><circle class="d" cx="746" cy="271" r="4"/><circle class="d" cx="2321" cy="699" r="4"/><circle class="d" cx="1861" cy="472" r="4"/><circle class="d" cx="1464" cy="474" r="4"/><circle class="d" cx="1258" cy="471" r="4"/>
<circle class="d" cx="549" cy="359" r="4"/><circle class="d" cx="549" cy="423" r="4"/><circle class="d" cx="556" cy="606" r="4"/><circle class="d" cx="396" cy="615" r="4"/><circle class="d" cx="400" cy="693" r="4"/><circle class="d" cx="342" cy="779" r="4"/><circle class="d" cx="738" cy="789" r="4"/>
<circle class="d" cx="995" cy="527" r="4"/><circle class="d" cx="984" cy="595" r="4"/><circle class="d" cx="963" cy="688" r="4"/><circle class="d" cx="1140" cy="775" r="4"/><circle class="d" cx="1520" cy="692" r="4"/><circle class="d" cx="1913" cy="973" r="4"/><circle class="d" cx="1984" cy="973" r="4"/>
<circle class="d" cx="1243" cy="999" r="4"/><circle class="d" cx="1645" cy="769" r="4"/><circle class="d" cx="1243" cy="1048" r="4"/><circle class="d" cx="1645" cy="1091" r="4"/><circle class="d" cx="1220" cy="1213" r="4"/><circle class="d" cx="1267" cy="1296" r="4"/>
<circle class="d" cx="1816" cy="1300" r="4"/><circle class="d" cx="1800" cy="1385" r="4"/><circle class="d" cx="1800" cy="1470" r="4"/><circle class="d" cx="1777" cy="1552" r="4"/><circle class="d" cx="1665" cy="1613" r="4"/>
<circle class="d" cx="2194" cy="1318" r="4"/><circle class="d" cx="2204" cy="1395" r="4"/><circle class="d" cx="2127" cy="1538" r="4"/><circle class="d" cx="2484" cy="1509" r="4"/><circle class="d" cx="2371" cy="1580" r="4"/><circle class="d" cx="2386" cy="1674" r="4"/>
<circle class="d" cx="2302" cy="1175" r="4"/><circle class="d" cx="2591" cy="1320" r="4"/><circle class="d" cx="2532" cy="712" r="4"/><circle class="d" cx="2533" cy="932" r="4"/><circle class="d" cx="2274" cy="458" r="4"/><circle class="d" cx="2166" cy="552" r="4"/><circle class="d" cx="2107" cy="663" r="4"/><circle class="d" cx="2531" cy="467" r="4"/>
<circle class="d" cx="2869" cy="588" r="4"/><circle class="d" cx="2941" cy="656" r="4"/><circle class="d" cx="3079" cy="705" r="4"/><circle class="d" cx="2911" cy="836" r="4"/><circle class="d" cx="2956" cy="938" r="4"/><circle class="d" cx="3033" cy="1028" r="4"/>
<circle class="d" cx="840" cy="1021" r="4"/><circle class="d" cx="810" cy="1120" r="4"/><circle class="d" cx="820" cy="1220" r="4"/><circle class="d" cx="290" cy="1086" r="4"/><circle class="d" cx="177" cy="1260" r="4"/>
<circle class="d" cx="156" cy="1480" r="4"/><circle class="d" cx="156" cy="1659" r="4"/><circle class="d" cx="264" cy="1764" r="4"/><circle class="d" cx="464" cy="1721" r="4"/><circle class="d" cx="56" cy="1770" r="4"/><circle class="d" cx="959" cy="1725" r="4"/>
<circle class="d" cx="3300" cy="1408" r="4"/><circle class="d" cx="3400" cy="1350" r="4"/><circle class="d" cx="3367" cy="1625" r="4"/>
</g>
</svg>
